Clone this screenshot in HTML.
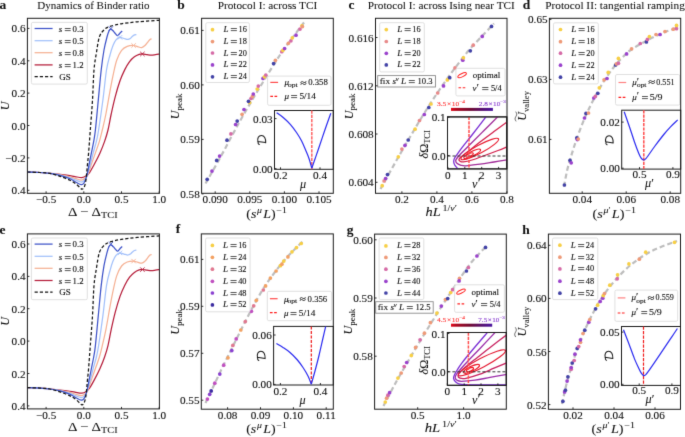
<!DOCTYPE html><html><head><meta charset="utf-8"><style>html,body{margin:0;padding:0;background:#fff;overflow:hidden}svg{display:block;will-change:transform}text{font-family:"Liberation Serif",serif}</style></head><body>
<svg xmlns="http://www.w3.org/2000/svg" width="685" height="437" viewBox="0 0 685 437">
<defs><filter id="soft" filterUnits="userSpaceOnUse" x="0" y="0" width="685" height="437" color-interpolation-filters="sRGB"><feConvolveMatrix order="3" kernelMatrix="0.0100 0.0800 0.0100 0.0800 0.6400 0.0800 0.0100 0.0800 0.0100" edgeMode="duplicate"/></filter></defs>
<rect width="685" height="437" fill="#fff"/>
<g filter="url(#soft)"><rect width="685" height="437" fill="#fff"/>
<text x="93.40" y="9.20" font-size="10.2" text-anchor="middle" textLength="112.4" lengthAdjust="spacingAndGlyphs" fill="#111" stroke="#111" stroke-width="0.05">Dynamics of Binder ratio</text>
<text x="-0.50" y="9.30" font-size="13.5" font-weight="bold" fill="#111" stroke="#111" stroke-width="0.06">a</text>
<g clip-path="url(#clipaa)">
<path d="M27.40,172.00 C29.50,172.08 36.23,172.27 40.00,172.50 C43.77,172.73 46.67,173.08 50.00,173.40 C53.33,173.72 56.97,174.07 60.00,174.40 C63.03,174.73 65.70,175.03 68.20,175.40 C70.70,175.77 72.72,176.23 75.00,176.60 C77.28,176.97 80.02,177.73 81.90,177.60 C83.78,177.47 85.00,176.68 86.30,175.80 C87.60,174.92 88.37,174.22 89.70,172.30 C91.03,170.38 92.58,167.53 94.30,164.30 C96.02,161.07 98.28,156.72 100.00,152.90 C101.72,149.08 103.27,145.22 104.60,141.40 C105.93,137.58 106.90,134.57 108.00,130.00 C109.10,125.43 110.00,119.53 111.20,114.00 C112.40,108.47 113.73,102.33 115.20,96.80 C116.67,91.27 118.40,85.33 120.00,80.80 C121.60,76.27 123.20,72.80 124.80,69.60 C126.40,66.40 128.00,63.73 129.60,61.60 C131.20,59.47 132.80,58.02 134.40,56.80 C136.00,55.58 137.87,54.78 139.20,54.30 C140.53,53.82 141.10,53.85 142.40,53.90 C143.70,53.95 145.52,54.40 147.00,54.60 C148.48,54.80 149.88,55.10 151.30,55.10 C152.72,55.10 154.15,54.78 155.50,54.60 C156.85,54.42 158.75,54.10 159.40,54.00" fill="none" stroke="#b51d3a" stroke-width="1.25" stroke-linejoin="round"/>
<path d="M27.40,172.00 C29.50,172.08 36.23,172.27 40.00,172.50 C43.77,172.73 46.67,173.03 50.00,173.40 C53.33,173.77 56.67,174.13 60.00,174.70 C63.33,175.27 67.33,176.13 70.00,176.80 C72.67,177.47 74.00,178.17 76.00,178.70 C78.00,179.23 80.22,180.32 82.00,180.00 C83.78,179.68 85.65,177.93 86.70,176.80 C87.75,175.67 87.52,175.28 88.30,173.20 C89.08,171.12 90.22,167.68 91.40,164.30 C92.58,160.92 94.07,156.72 95.40,152.90 C96.73,149.08 98.25,145.22 99.40,141.40 C100.55,137.58 101.22,134.57 102.30,130.00 C103.38,125.43 104.55,120.87 105.90,114.00 C107.25,107.13 109.12,95.67 110.40,88.80 C111.68,81.93 112.53,77.60 113.60,72.80 C114.67,68.00 115.47,63.73 116.80,60.00 C118.13,56.27 119.87,52.67 121.60,50.40 C123.33,48.13 125.22,47.22 127.20,46.40 C129.18,45.58 131.78,45.47 133.50,45.50 C135.22,45.53 136.13,46.25 137.50,46.60 C138.87,46.95 140.45,47.78 141.70,47.60 C142.95,47.42 143.95,46.47 145.00,45.50 C146.05,44.53 147.17,42.82 148.00,41.80 C148.83,40.78 149.40,39.88 150.00,39.40 C150.60,38.92 151.33,38.98 151.60,38.90" fill="none" stroke="#f5b194" stroke-width="1.25" stroke-linejoin="round"/>
<path d="M27.40,172.00 C29.50,172.08 36.23,172.27 40.00,172.50 C43.77,172.73 46.67,172.98 50.00,173.40 C53.33,173.82 56.67,174.27 60.00,175.00 C63.33,175.73 67.33,176.93 70.00,177.80 C72.67,178.67 74.17,179.50 76.00,180.20 C77.83,180.90 79.67,181.90 81.00,182.00 C82.33,182.10 83.05,181.75 84.00,180.80 C84.95,179.85 85.65,179.05 86.70,176.30 C87.75,173.55 89.22,168.20 90.30,164.30 C91.38,160.40 92.18,156.72 93.20,152.90 C94.22,149.08 95.50,145.22 96.40,141.40 C97.30,137.58 97.52,136.90 98.60,130.00 C99.68,123.10 101.58,110.00 102.90,100.00 C104.22,90.00 105.32,77.50 106.50,70.00 C107.68,62.50 108.92,59.08 110.00,55.00 C111.08,50.92 112.00,48.03 113.00,45.50 C114.00,42.97 114.87,41.15 116.00,39.80 C117.13,38.45 118.47,37.62 119.80,37.40 C121.13,37.18 122.63,38.17 124.00,38.50 C125.37,38.83 126.92,39.43 128.00,39.40 C129.08,39.37 129.75,38.82 130.50,38.30 C131.25,37.78 131.83,36.87 132.50,36.30 C133.17,35.73 133.85,35.18 134.50,34.90 C135.15,34.62 136.08,34.65 136.40,34.60" fill="none" stroke="#a2c0fa" stroke-width="1.25" stroke-linejoin="round"/>
<path d="M27.40,172.00 C29.50,172.08 36.23,172.27 40.00,172.50 C43.77,172.73 46.67,172.93 50.00,173.40 C53.33,173.87 56.67,174.40 60.00,175.30 C63.33,176.20 67.33,177.65 70.00,178.80 C72.67,179.95 74.13,181.23 76.00,182.20 C77.87,183.17 79.87,184.47 81.20,184.60 C82.53,184.73 83.08,184.40 84.00,183.00 C84.92,181.60 85.85,179.32 86.70,176.20 C87.55,173.08 88.32,168.18 89.10,164.30 C89.88,160.42 90.63,156.72 91.40,152.90 C92.17,149.08 93.03,145.22 93.70,141.40 C94.37,137.58 94.63,136.90 95.40,130.00 C96.17,123.10 97.33,110.00 98.30,100.00 C99.27,90.00 100.25,78.33 101.20,70.00 C102.15,61.67 103.03,55.50 104.00,50.00 C104.97,44.50 106.20,40.08 107.00,37.00 C107.80,33.92 108.20,32.80 108.80,31.50 C109.40,30.20 109.98,29.40 110.60,29.20 C111.22,29.00 111.85,29.75 112.50,30.30 C113.15,30.85 113.70,31.62 114.50,32.50 C115.30,33.38 116.55,35.30 117.30,35.60 C118.05,35.90 118.45,34.83 119.00,34.30 C119.55,33.77 120.07,32.95 120.60,32.40 C121.13,31.85 121.93,31.23 122.20,31.00" fill="none" stroke="#3d52c8" stroke-width="1.25" stroke-linejoin="round"/>
<path d="M27.40,172.00 C29.50,172.08 36.23,172.27 40.00,172.50 C43.77,172.73 46.67,172.77 50.00,173.40 C53.33,174.03 56.67,175.15 60.00,176.30 C63.33,177.45 67.33,179.02 70.00,180.30 C72.67,181.58 74.33,182.75 76.00,184.00 C77.67,185.25 79.00,186.93 80.00,187.80 C81.00,188.67 81.33,189.23 82.00,189.20 C82.67,189.17 83.40,188.80 84.00,187.60 C84.60,186.40 85.17,184.27 85.60,182.00 C86.03,179.73 86.30,176.83 86.60,174.00 C86.90,171.17 87.07,168.52 87.40,165.00 C87.73,161.48 88.12,158.73 88.60,152.90 C89.08,147.07 89.65,138.82 90.30,130.00 C90.95,121.18 91.88,110.00 92.50,100.00 C93.12,90.00 93.33,77.95 94.00,70.00 C94.67,62.05 95.62,57.77 96.50,52.30 C97.38,46.83 98.12,40.87 99.30,37.20 C100.48,33.53 101.93,32.07 103.60,30.30 C105.27,28.53 106.37,27.68 109.30,26.60 C112.23,25.52 116.48,24.60 121.20,23.80 C125.92,23.00 131.23,22.38 137.60,21.80 C143.97,21.22 155.77,20.55 159.40,20.30" fill="none" stroke="#111" stroke-width="1.25" stroke-linejoin="round" stroke-dasharray="3.2,2.0"/>
</g>
<clipPath id="clipaa"><rect x="27.4" y="18.3" width="132.0" height="175.0"/></clipPath>
<line x1="108.60" y1="26.40" x2="113.00" y2="30.80" stroke="#3d52c8" stroke-width="0.9" stroke-linecap="butt"/>
<line x1="108.60" y1="30.80" x2="113.00" y2="26.40" stroke="#3d52c8" stroke-width="0.9" stroke-linecap="butt"/>
<line x1="117.80" y1="35.10" x2="122.20" y2="39.50" stroke="#a2c0fa" stroke-width="0.9" stroke-linecap="butt"/>
<line x1="117.80" y1="39.50" x2="122.20" y2="35.10" stroke="#a2c0fa" stroke-width="0.9" stroke-linecap="butt"/>
<line x1="131.40" y1="43.30" x2="135.80" y2="47.70" stroke="#f5b194" stroke-width="0.9" stroke-linecap="butt"/>
<line x1="131.40" y1="47.70" x2="135.80" y2="43.30" stroke="#f5b194" stroke-width="0.9" stroke-linecap="butt"/>
<line x1="140.20" y1="51.80" x2="144.60" y2="56.20" stroke="#b51d3a" stroke-width="0.9" stroke-linecap="butt"/>
<line x1="140.20" y1="56.20" x2="144.60" y2="51.80" stroke="#b51d3a" stroke-width="0.9" stroke-linecap="butt"/>
<rect x="31.40" y="22.40" width="55.90" height="61.70" rx="1.5" fill="rgba(255,255,255,0.8)" stroke="#d8d8d8" stroke-width="0.8"/>
<line x1="34.60" y1="28.50" x2="52.60" y2="28.50" stroke="#3d52c8" stroke-width="1.25" stroke-linecap="butt"/>
<text x="58.80" y="31.70" font-size="9.0" fill="#111" stroke="#111" stroke-width="0.12"><tspan font-style="italic">s</tspan></text>
<line x1="64.80" y1="28.50" x2="70.70" y2="28.50" stroke="#222" stroke-width="0.75" stroke-linecap="butt"/>
<line x1="64.80" y1="30.60" x2="70.70" y2="30.60" stroke="#222" stroke-width="0.75" stroke-linecap="butt"/>
<text x="72.60" y="31.70" font-size="9.0" textLength="11.0" lengthAdjust="spacingAndGlyphs" fill="#111" stroke="#111" stroke-width="0.12">0.3</text>
<line x1="34.60" y1="40.70" x2="52.60" y2="40.70" stroke="#a2c0fa" stroke-width="1.25" stroke-linecap="butt"/>
<text x="58.80" y="43.90" font-size="9.0" fill="#111" stroke="#111" stroke-width="0.12"><tspan font-style="italic">s</tspan></text>
<line x1="64.80" y1="40.50" x2="70.70" y2="40.50" stroke="#222" stroke-width="0.75" stroke-linecap="butt"/>
<line x1="64.80" y1="42.60" x2="70.70" y2="42.60" stroke="#222" stroke-width="0.75" stroke-linecap="butt"/>
<text x="72.60" y="43.90" font-size="9.0" textLength="11.0" lengthAdjust="spacingAndGlyphs" fill="#111" stroke="#111" stroke-width="0.12">0.5</text>
<line x1="34.60" y1="52.70" x2="52.60" y2="52.70" stroke="#f5b194" stroke-width="1.25" stroke-linecap="butt"/>
<text x="58.80" y="55.90" font-size="9.0" fill="#111" stroke="#111" stroke-width="0.12"><tspan font-style="italic">s</tspan></text>
<line x1="64.80" y1="52.50" x2="70.70" y2="52.50" stroke="#222" stroke-width="0.75" stroke-linecap="butt"/>
<line x1="64.80" y1="54.60" x2="70.70" y2="54.60" stroke="#222" stroke-width="0.75" stroke-linecap="butt"/>
<text x="72.60" y="55.90" font-size="9.0" textLength="11.0" lengthAdjust="spacingAndGlyphs" fill="#111" stroke="#111" stroke-width="0.12">0.8</text>
<line x1="34.60" y1="64.90" x2="52.60" y2="64.90" stroke="#b51d3a" stroke-width="1.25" stroke-linecap="butt"/>
<text x="58.80" y="68.10" font-size="9.0" fill="#111" stroke="#111" stroke-width="0.12"><tspan font-style="italic">s</tspan></text>
<line x1="64.80" y1="64.50" x2="70.70" y2="64.50" stroke="#222" stroke-width="0.75" stroke-linecap="butt"/>
<line x1="64.80" y1="66.60" x2="70.70" y2="66.60" stroke="#222" stroke-width="0.75" stroke-linecap="butt"/>
<text x="72.60" y="68.10" font-size="9.0" textLength="11.0" lengthAdjust="spacingAndGlyphs" fill="#111" stroke="#111" stroke-width="0.12">1.2</text>
<line x1="34.60" y1="76.60" x2="52.60" y2="76.60" stroke="#111" stroke-width="1.25" stroke-linecap="butt" stroke-dasharray="3.2,2.0"/>
<text x="59.20" y="79.60" font-size="9.0" fill="#111" stroke="#111" stroke-width="0.12">GS</text>
<rect x="27.40" y="18.30" width="132.00" height="175.00" rx="0" fill="none" stroke="#1a1a1a" stroke-width="1.0"/>
<line x1="27.40" y1="28.40" x2="29.40" y2="28.40" stroke="#1a1a1a" stroke-width="0.9" stroke-linecap="butt"/>
<text x="25.60" y="32.40" font-size="11.2" text-anchor="end" fill="#111" stroke="#111" stroke-width="0.12">0.6</text>
<line x1="27.40" y1="60.80" x2="29.40" y2="60.80" stroke="#1a1a1a" stroke-width="0.9" stroke-linecap="butt"/>
<text x="25.60" y="64.80" font-size="11.2" text-anchor="end" fill="#111" stroke="#111" stroke-width="0.12">0.4</text>
<line x1="27.40" y1="93.10" x2="29.40" y2="93.10" stroke="#1a1a1a" stroke-width="0.9" stroke-linecap="butt"/>
<text x="25.60" y="97.10" font-size="11.2" text-anchor="end" fill="#111" stroke="#111" stroke-width="0.12">0.2</text>
<line x1="27.40" y1="125.50" x2="29.40" y2="125.50" stroke="#1a1a1a" stroke-width="0.9" stroke-linecap="butt"/>
<text x="25.60" y="129.50" font-size="11.2" text-anchor="end" fill="#111" stroke="#111" stroke-width="0.12">0.0</text>
<line x1="27.40" y1="157.90" x2="29.40" y2="157.90" stroke="#1a1a1a" stroke-width="0.9" stroke-linecap="butt"/>
<text x="25.60" y="161.90" font-size="11.2" text-anchor="end" fill="#111" stroke="#111" stroke-width="0.12">−0.2</text>
<line x1="27.40" y1="190.30" x2="29.40" y2="190.30" stroke="#1a1a1a" stroke-width="0.9" stroke-linecap="butt"/>
<text x="25.60" y="194.30" font-size="11.2" text-anchor="end" fill="#111" stroke="#111" stroke-width="0.12">0.4</text>
<line x1="46.10" y1="193.30" x2="46.10" y2="191.30" stroke="#1a1a1a" stroke-width="0.9" stroke-linecap="butt"/>
<text x="46.10" y="202.90" font-size="11.2" text-anchor="middle" fill="#111" stroke="#111" stroke-width="0.12">−0.5</text>
<line x1="83.80" y1="193.30" x2="83.80" y2="191.30" stroke="#1a1a1a" stroke-width="0.9" stroke-linecap="butt"/>
<text x="83.80" y="202.90" font-size="11.2" text-anchor="middle" fill="#111" stroke="#111" stroke-width="0.12">0.0</text>
<line x1="121.50" y1="193.30" x2="121.50" y2="191.30" stroke="#1a1a1a" stroke-width="0.9" stroke-linecap="butt"/>
<text x="121.50" y="202.90" font-size="11.2" text-anchor="middle" fill="#111" stroke="#111" stroke-width="0.12">0.5</text>
<line x1="159.20" y1="193.30" x2="159.20" y2="191.30" stroke="#1a1a1a" stroke-width="0.9" stroke-linecap="butt"/>
<text x="159.20" y="202.90" font-size="11.2" text-anchor="middle" fill="#111" stroke="#111" stroke-width="0.12">1.0</text>
<text x="92.85" y="215.70" font-size="12.2" text-anchor="middle" textLength="49.5" lengthAdjust="spacingAndGlyphs" fill="#111" stroke="#111" stroke-width="0.06">Δ − Δ<tspan dy="2.0" font-size="8.54">TCI</tspan></text>
<text x="9.00" y="105.80" font-size="12.2" text-anchor="middle" transform="rotate(-90 9.00 105.80)" fill="#111" stroke="#111" stroke-width="0.06"><tspan font-style="italic">U</tspan></text>
<text x="-0.50" y="233.80" font-size="13.5" font-weight="bold" fill="#111" stroke="#111" stroke-width="0.06">e</text>
<g clip-path="url(#clipae)">
<path d="M27.40,387.60 C29.50,387.68 36.23,387.87 40.00,388.10 C43.77,388.33 46.67,388.68 50.00,389.00 C53.33,389.32 56.97,389.67 60.00,390.00 C63.03,390.33 65.70,390.63 68.20,391.00 C70.70,391.37 72.72,391.83 75.00,392.20 C77.28,392.57 80.02,393.33 81.90,393.20 C83.78,393.07 85.00,392.28 86.30,391.40 C87.60,390.52 88.37,389.82 89.70,387.90 C91.03,385.98 92.58,383.13 94.30,379.90 C96.02,376.67 98.28,372.32 100.00,368.50 C101.72,364.68 103.27,360.82 104.60,357.00 C105.93,353.18 106.90,350.17 108.00,345.60 C109.10,341.03 110.00,335.13 111.20,329.60 C112.40,324.07 113.73,317.93 115.20,312.40 C116.67,306.87 118.40,300.93 120.00,296.40 C121.60,291.87 123.20,288.40 124.80,285.20 C126.40,282.00 128.00,279.33 129.60,277.20 C131.20,275.07 132.80,273.62 134.40,272.40 C136.00,271.18 137.87,270.38 139.20,269.90 C140.53,269.42 141.10,269.45 142.40,269.50 C143.70,269.55 145.52,270.00 147.00,270.20 C148.48,270.40 149.88,270.70 151.30,270.70 C152.72,270.70 154.15,270.38 155.50,270.20 C156.85,270.02 158.75,269.70 159.40,269.60" fill="none" stroke="#b51d3a" stroke-width="1.25" stroke-linejoin="round"/>
<path d="M27.40,387.60 C29.50,387.68 36.23,387.87 40.00,388.10 C43.77,388.33 46.67,388.63 50.00,389.00 C53.33,389.37 56.67,389.73 60.00,390.30 C63.33,390.87 67.33,391.73 70.00,392.40 C72.67,393.07 74.00,393.77 76.00,394.30 C78.00,394.83 80.22,395.92 82.00,395.60 C83.78,395.28 85.65,393.53 86.70,392.40 C87.75,391.27 87.52,390.88 88.30,388.80 C89.08,386.72 90.22,383.28 91.40,379.90 C92.58,376.52 94.07,372.32 95.40,368.50 C96.73,364.68 98.25,360.82 99.40,357.00 C100.55,353.18 101.22,350.17 102.30,345.60 C103.38,341.03 104.55,336.47 105.90,329.60 C107.25,322.73 109.12,311.27 110.40,304.40 C111.68,297.53 112.53,293.20 113.60,288.40 C114.67,283.60 115.47,279.33 116.80,275.60 C118.13,271.87 119.87,268.27 121.60,266.00 C123.33,263.73 125.22,262.82 127.20,262.00 C129.18,261.18 131.78,261.07 133.50,261.10 C135.22,261.13 136.13,261.85 137.50,262.20 C138.87,262.55 140.45,263.38 141.70,263.20 C142.95,263.02 143.95,262.07 145.00,261.10 C146.05,260.13 147.17,258.42 148.00,257.40 C148.83,256.38 149.40,255.48 150.00,255.00 C150.60,254.52 151.33,254.58 151.60,254.50" fill="none" stroke="#f5b194" stroke-width="1.25" stroke-linejoin="round"/>
<path d="M27.40,387.60 C29.50,387.68 36.23,387.87 40.00,388.10 C43.77,388.33 46.67,388.58 50.00,389.00 C53.33,389.42 56.67,389.87 60.00,390.60 C63.33,391.33 67.33,392.53 70.00,393.40 C72.67,394.27 74.17,395.10 76.00,395.80 C77.83,396.50 79.67,397.50 81.00,397.60 C82.33,397.70 83.05,397.35 84.00,396.40 C84.95,395.45 85.65,394.65 86.70,391.90 C87.75,389.15 89.22,383.80 90.30,379.90 C91.38,376.00 92.18,372.32 93.20,368.50 C94.22,364.68 95.50,360.82 96.40,357.00 C97.30,353.18 97.52,352.50 98.60,345.60 C99.68,338.70 101.58,325.60 102.90,315.60 C104.22,305.60 105.32,293.10 106.50,285.60 C107.68,278.10 108.92,274.68 110.00,270.60 C111.08,266.52 112.00,263.63 113.00,261.10 C114.00,258.57 114.87,256.75 116.00,255.40 C117.13,254.05 118.47,253.22 119.80,253.00 C121.13,252.78 122.63,253.77 124.00,254.10 C125.37,254.43 126.92,255.03 128.00,255.00 C129.08,254.97 129.75,254.42 130.50,253.90 C131.25,253.38 131.83,252.47 132.50,251.90 C133.17,251.33 133.85,250.78 134.50,250.50 C135.15,250.22 136.08,250.25 136.40,250.20" fill="none" stroke="#a2c0fa" stroke-width="1.25" stroke-linejoin="round"/>
<path d="M27.40,387.60 C29.50,387.68 36.23,387.87 40.00,388.10 C43.77,388.33 46.67,388.53 50.00,389.00 C53.33,389.47 56.67,390.00 60.00,390.90 C63.33,391.80 67.33,393.25 70.00,394.40 C72.67,395.55 74.13,396.83 76.00,397.80 C77.87,398.77 79.87,400.07 81.20,400.20 C82.53,400.33 83.08,400.00 84.00,398.60 C84.92,397.20 85.85,394.92 86.70,391.80 C87.55,388.68 88.32,383.78 89.10,379.90 C89.88,376.02 90.63,372.32 91.40,368.50 C92.17,364.68 93.03,360.82 93.70,357.00 C94.37,353.18 94.63,352.50 95.40,345.60 C96.17,338.70 97.33,325.60 98.30,315.60 C99.27,305.60 100.25,293.93 101.20,285.60 C102.15,277.27 103.03,271.10 104.00,265.60 C104.97,260.10 106.20,255.68 107.00,252.60 C107.80,249.52 108.20,248.40 108.80,247.10 C109.40,245.80 109.98,245.00 110.60,244.80 C111.22,244.60 111.85,245.35 112.50,245.90 C113.15,246.45 113.70,247.22 114.50,248.10 C115.30,248.98 116.55,250.90 117.30,251.20 C118.05,251.50 118.45,250.43 119.00,249.90 C119.55,249.37 120.07,248.55 120.60,248.00 C121.13,247.45 121.93,246.83 122.20,246.60" fill="none" stroke="#3d52c8" stroke-width="1.25" stroke-linejoin="round"/>
<path d="M27.40,387.60 C29.50,387.68 36.23,387.87 40.00,388.10 C43.77,388.33 46.67,388.37 50.00,389.00 C53.33,389.63 56.67,390.75 60.00,391.90 C63.33,393.05 67.33,394.62 70.00,395.90 C72.67,397.18 74.33,398.35 76.00,399.60 C77.67,400.85 79.00,402.53 80.00,403.40 C81.00,404.27 81.33,404.83 82.00,404.80 C82.67,404.77 83.40,404.40 84.00,403.20 C84.60,402.00 85.17,399.87 85.60,397.60 C86.03,395.33 86.30,392.43 86.60,389.60 C86.90,386.77 87.07,384.12 87.40,380.60 C87.73,377.08 88.12,374.33 88.60,368.50 C89.08,362.67 89.65,354.42 90.30,345.60 C90.95,336.78 91.88,325.60 92.50,315.60 C93.12,305.60 93.33,293.55 94.00,285.60 C94.67,277.65 95.62,273.37 96.50,267.90 C97.38,262.43 98.12,256.47 99.30,252.80 C100.48,249.13 101.93,247.67 103.60,245.90 C105.27,244.13 106.37,243.28 109.30,242.20 C112.23,241.12 116.48,240.20 121.20,239.40 C125.92,238.60 131.23,237.98 137.60,237.40 C143.97,236.82 155.77,236.15 159.40,235.90" fill="none" stroke="#111" stroke-width="1.25" stroke-linejoin="round" stroke-dasharray="3.2,2.0"/>
</g>
<clipPath id="clipae"><rect x="27.4" y="233.9" width="132.0" height="174.99999999999997"/></clipPath>
<line x1="108.60" y1="242.00" x2="113.00" y2="246.40" stroke="#3d52c8" stroke-width="0.9" stroke-linecap="butt"/>
<line x1="108.60" y1="246.40" x2="113.00" y2="242.00" stroke="#3d52c8" stroke-width="0.9" stroke-linecap="butt"/>
<line x1="117.80" y1="250.70" x2="122.20" y2="255.10" stroke="#a2c0fa" stroke-width="0.9" stroke-linecap="butt"/>
<line x1="117.80" y1="255.10" x2="122.20" y2="250.70" stroke="#a2c0fa" stroke-width="0.9" stroke-linecap="butt"/>
<line x1="131.40" y1="258.90" x2="135.80" y2="263.30" stroke="#f5b194" stroke-width="0.9" stroke-linecap="butt"/>
<line x1="131.40" y1="263.30" x2="135.80" y2="258.90" stroke="#f5b194" stroke-width="0.9" stroke-linecap="butt"/>
<line x1="140.20" y1="267.40" x2="144.60" y2="271.80" stroke="#b51d3a" stroke-width="0.9" stroke-linecap="butt"/>
<line x1="140.20" y1="271.80" x2="144.60" y2="267.40" stroke="#b51d3a" stroke-width="0.9" stroke-linecap="butt"/>
<rect x="31.40" y="238.00" width="55.90" height="61.70" rx="1.5" fill="rgba(255,255,255,0.8)" stroke="#d8d8d8" stroke-width="0.8"/>
<line x1="34.60" y1="244.10" x2="52.60" y2="244.10" stroke="#3d52c8" stroke-width="1.25" stroke-linecap="butt"/>
<text x="58.80" y="247.30" font-size="9.0" fill="#111" stroke="#111" stroke-width="0.12"><tspan font-style="italic">s</tspan></text>
<line x1="64.80" y1="243.50" x2="70.70" y2="243.50" stroke="#222" stroke-width="0.75" stroke-linecap="butt"/>
<line x1="64.80" y1="245.60" x2="70.70" y2="245.60" stroke="#222" stroke-width="0.75" stroke-linecap="butt"/>
<text x="72.60" y="247.30" font-size="9.0" textLength="11.0" lengthAdjust="spacingAndGlyphs" fill="#111" stroke="#111" stroke-width="0.12">0.3</text>
<line x1="34.60" y1="256.30" x2="52.60" y2="256.30" stroke="#a2c0fa" stroke-width="1.25" stroke-linecap="butt"/>
<text x="58.80" y="259.50" font-size="9.0" fill="#111" stroke="#111" stroke-width="0.12"><tspan font-style="italic">s</tspan></text>
<line x1="64.80" y1="256.50" x2="70.70" y2="256.50" stroke="#222" stroke-width="0.75" stroke-linecap="butt"/>
<line x1="64.80" y1="258.60" x2="70.70" y2="258.60" stroke="#222" stroke-width="0.75" stroke-linecap="butt"/>
<text x="72.60" y="259.50" font-size="9.0" textLength="11.0" lengthAdjust="spacingAndGlyphs" fill="#111" stroke="#111" stroke-width="0.12">0.5</text>
<line x1="34.60" y1="268.30" x2="52.60" y2="268.30" stroke="#f5b194" stroke-width="1.25" stroke-linecap="butt"/>
<text x="58.80" y="271.50" font-size="9.0" fill="#111" stroke="#111" stroke-width="0.12"><tspan font-style="italic">s</tspan></text>
<line x1="64.80" y1="268.50" x2="70.70" y2="268.50" stroke="#222" stroke-width="0.75" stroke-linecap="butt"/>
<line x1="64.80" y1="270.60" x2="70.70" y2="270.60" stroke="#222" stroke-width="0.75" stroke-linecap="butt"/>
<text x="72.60" y="271.50" font-size="9.0" textLength="11.0" lengthAdjust="spacingAndGlyphs" fill="#111" stroke="#111" stroke-width="0.12">0.8</text>
<line x1="34.60" y1="280.50" x2="52.60" y2="280.50" stroke="#b51d3a" stroke-width="1.25" stroke-linecap="butt"/>
<text x="58.80" y="283.70" font-size="9.0" fill="#111" stroke="#111" stroke-width="0.12"><tspan font-style="italic">s</tspan></text>
<line x1="64.80" y1="280.50" x2="70.70" y2="280.50" stroke="#222" stroke-width="0.75" stroke-linecap="butt"/>
<line x1="64.80" y1="282.60" x2="70.70" y2="282.60" stroke="#222" stroke-width="0.75" stroke-linecap="butt"/>
<text x="72.60" y="283.70" font-size="9.0" textLength="11.0" lengthAdjust="spacingAndGlyphs" fill="#111" stroke="#111" stroke-width="0.12">1.2</text>
<line x1="34.60" y1="292.20" x2="52.60" y2="292.20" stroke="#111" stroke-width="1.25" stroke-linecap="butt" stroke-dasharray="3.2,2.0"/>
<text x="59.20" y="295.20" font-size="9.0" fill="#111" stroke="#111" stroke-width="0.12">GS</text>
<rect x="27.40" y="233.90" width="132.00" height="175.00" rx="0" fill="none" stroke="#1a1a1a" stroke-width="1.0"/>
<line x1="27.40" y1="244.00" x2="29.40" y2="244.00" stroke="#1a1a1a" stroke-width="0.9" stroke-linecap="butt"/>
<text x="25.60" y="248.00" font-size="11.2" text-anchor="end" fill="#111" stroke="#111" stroke-width="0.12">0.6</text>
<line x1="27.40" y1="276.40" x2="29.40" y2="276.40" stroke="#1a1a1a" stroke-width="0.9" stroke-linecap="butt"/>
<text x="25.60" y="280.40" font-size="11.2" text-anchor="end" fill="#111" stroke="#111" stroke-width="0.12">0.4</text>
<line x1="27.40" y1="308.70" x2="29.40" y2="308.70" stroke="#1a1a1a" stroke-width="0.9" stroke-linecap="butt"/>
<text x="25.60" y="312.70" font-size="11.2" text-anchor="end" fill="#111" stroke="#111" stroke-width="0.12">0.2</text>
<line x1="27.40" y1="341.10" x2="29.40" y2="341.10" stroke="#1a1a1a" stroke-width="0.9" stroke-linecap="butt"/>
<text x="25.60" y="345.10" font-size="11.2" text-anchor="end" fill="#111" stroke="#111" stroke-width="0.12">0.0</text>
<line x1="27.40" y1="373.50" x2="29.40" y2="373.50" stroke="#1a1a1a" stroke-width="0.9" stroke-linecap="butt"/>
<text x="25.60" y="377.50" font-size="11.2" text-anchor="end" fill="#111" stroke="#111" stroke-width="0.12">0.2</text>
<line x1="27.40" y1="405.90" x2="29.40" y2="405.90" stroke="#1a1a1a" stroke-width="0.9" stroke-linecap="butt"/>
<text x="25.60" y="409.90" font-size="11.2" text-anchor="end" fill="#111" stroke="#111" stroke-width="0.12">0.4</text>
<line x1="46.10" y1="408.90" x2="46.10" y2="406.90" stroke="#1a1a1a" stroke-width="0.9" stroke-linecap="butt"/>
<text x="46.10" y="418.50" font-size="11.2" text-anchor="middle" fill="#111" stroke="#111" stroke-width="0.12">−0.5</text>
<line x1="83.80" y1="408.90" x2="83.80" y2="406.90" stroke="#1a1a1a" stroke-width="0.9" stroke-linecap="butt"/>
<text x="83.80" y="418.50" font-size="11.2" text-anchor="middle" fill="#111" stroke="#111" stroke-width="0.12">0.0</text>
<line x1="121.50" y1="408.90" x2="121.50" y2="406.90" stroke="#1a1a1a" stroke-width="0.9" stroke-linecap="butt"/>
<text x="121.50" y="418.50" font-size="11.2" text-anchor="middle" fill="#111" stroke="#111" stroke-width="0.12">0.5</text>
<line x1="159.20" y1="408.90" x2="159.20" y2="406.90" stroke="#1a1a1a" stroke-width="0.9" stroke-linecap="butt"/>
<text x="159.20" y="418.50" font-size="11.2" text-anchor="middle" fill="#111" stroke="#111" stroke-width="0.12">1.0</text>
<text x="92.85" y="431.30" font-size="12.2" text-anchor="middle" textLength="49.5" lengthAdjust="spacingAndGlyphs" fill="#111" stroke="#111" stroke-width="0.06">Δ − Δ<tspan dy="2.0" font-size="8.54">TCI</tspan></text>
<text x="9.00" y="321.40" font-size="12.2" text-anchor="middle" transform="rotate(-90 9.00 321.40)" fill="#111" stroke="#111" stroke-width="0.06"><tspan font-style="italic">U</tspan></text>
<text x="267.45" y="9.20" font-size="10.2" text-anchor="middle" textLength="99.5" lengthAdjust="spacingAndGlyphs" fill="#111" stroke="#111" stroke-width="0.05">Protocol I: across TCI</text>
<text x="177.30" y="9.30" font-size="13.5" font-weight="bold" fill="#111" stroke="#111" stroke-width="0.06">b</text>
<path d="M205.50,183.50 C207.92,179.25 214.25,168.42 220.00,158.00 C225.75,147.58 233.33,132.83 240.00,121.00 C246.67,109.17 253.33,98.00 260.00,87.00 C266.67,76.00 274.00,64.00 280.00,55.00 C286.00,46.00 292.00,38.42 296.00,33.00 C300.00,27.58 302.67,24.25 304.00,22.50" fill="none" stroke="#bdbdbd" stroke-width="2.2" stroke-linejoin="round" stroke-dasharray="5,3"/>
<circle cx="207.20" cy="179.30" r="1.85" fill="#4242a6"/>
<circle cx="212.00" cy="171.10" r="1.85" fill="#9a42cc"/>
<circle cx="216.70" cy="160.40" r="1.85" fill="#4242a6"/>
<circle cx="219.60" cy="156.10" r="1.85" fill="#9a42cc"/>
<circle cx="227.00" cy="140.20" r="1.85" fill="#4242a6"/>
<circle cx="230.90" cy="133.90" r="1.85" fill="#d56aa6"/>
<circle cx="235.60" cy="124.50" r="1.85" fill="#9a42cc"/>
<circle cx="237.20" cy="121.10" r="1.85" fill="#4242a6"/>
<circle cx="242.10" cy="114.30" r="1.85" fill="#ee9a78"/>
<circle cx="244.00" cy="109.50" r="1.85" fill="#9a42cc"/>
<circle cx="249.60" cy="102.40" r="1.85" fill="#f7cf45"/>
<circle cx="248.50" cy="101.30" r="1.85" fill="#4242a6"/>
<circle cx="251.00" cy="98.50" r="1.85" fill="#d56aa6"/>
<circle cx="252.40" cy="96.40" r="1.85" fill="#ee9a78"/>
<circle cx="253.30" cy="94.00" r="1.85" fill="#9a42cc"/>
<circle cx="257.20" cy="89.10" r="1.85" fill="#f7cf45"/>
<circle cx="258.30" cy="86.10" r="1.85" fill="#d56aa6"/>
<circle cx="263.00" cy="78.40" r="1.85" fill="#9a42cc"/>
<circle cx="264.40" cy="76.80" r="1.85" fill="#f7cf45"/>
<circle cx="265.80" cy="75.00" r="1.85" fill="#d56aa6"/>
<circle cx="273.60" cy="63.60" r="1.85" fill="#4242a6"/>
<circle cx="275.40" cy="60.30" r="1.85" fill="#ee9a78"/>
<circle cx="281.80" cy="51.70" r="1.85" fill="#d56aa6"/>
<circle cx="282.90" cy="50.30" r="1.85" fill="#f7cf45"/>
<circle cx="284.60" cy="48.50" r="1.85" fill="#9a42cc"/>
<circle cx="288.30" cy="43.30" r="1.85" fill="#ee9a78"/>
<circle cx="290.90" cy="40.80" r="1.85" fill="#d56aa6"/>
<circle cx="292.30" cy="37.80" r="1.85" fill="#f7cf45"/>
<circle cx="296.00" cy="35.20" r="1.85" fill="#9a42cc"/>
<circle cx="300.00" cy="29.10" r="1.85" fill="#d56aa6"/>
<circle cx="302.00" cy="25.90" r="1.85" fill="#f7cf45"/>
<circle cx="302.40" cy="26.60" r="1.85" fill="#ee9a78"/>
<rect x="205.80" y="22.70" width="43.60" height="59.80" rx="1.5" fill="rgba(255,255,255,0.8)" stroke="#d8d8d8" stroke-width="0.8"/>
<circle cx="212.50" cy="29.70" r="1.85" fill="#f7cf45"/>
<text x="223.40" y="32.20" font-size="9.0" fill="#111" stroke="#111" stroke-width="0.12"><tspan font-style="italic">L</tspan></text>
<line x1="230.80" y1="28.50" x2="236.90" y2="28.50" stroke="#222" stroke-width="0.75" stroke-linecap="butt"/>
<line x1="230.80" y1="30.60" x2="236.90" y2="30.60" stroke="#222" stroke-width="0.75" stroke-linecap="butt"/>
<text x="238.50" y="32.20" font-size="9.0" textLength="8.3" lengthAdjust="spacingAndGlyphs" fill="#111" stroke="#111" stroke-width="0.12">16</text>
<circle cx="212.50" cy="41.60" r="1.85" fill="#ee9a78"/>
<text x="223.40" y="44.10" font-size="9.0" fill="#111" stroke="#111" stroke-width="0.12"><tspan font-style="italic">L</tspan></text>
<line x1="230.80" y1="40.50" x2="236.90" y2="40.50" stroke="#222" stroke-width="0.75" stroke-linecap="butt"/>
<line x1="230.80" y1="42.60" x2="236.90" y2="42.60" stroke="#222" stroke-width="0.75" stroke-linecap="butt"/>
<text x="238.50" y="44.10" font-size="9.0" textLength="8.3" lengthAdjust="spacingAndGlyphs" fill="#111" stroke="#111" stroke-width="0.12">18</text>
<circle cx="212.50" cy="53.00" r="1.85" fill="#d56aa6"/>
<text x="223.40" y="55.50" font-size="9.0" fill="#111" stroke="#111" stroke-width="0.12"><tspan font-style="italic">L</tspan></text>
<line x1="230.80" y1="52.50" x2="236.90" y2="52.50" stroke="#222" stroke-width="0.75" stroke-linecap="butt"/>
<line x1="230.80" y1="54.60" x2="236.90" y2="54.60" stroke="#222" stroke-width="0.75" stroke-linecap="butt"/>
<text x="238.50" y="55.50" font-size="9.0" textLength="8.3" lengthAdjust="spacingAndGlyphs" fill="#111" stroke="#111" stroke-width="0.12">20</text>
<circle cx="212.50" cy="64.90" r="1.85" fill="#9a42cc"/>
<text x="223.40" y="67.40" font-size="9.0" fill="#111" stroke="#111" stroke-width="0.12"><tspan font-style="italic">L</tspan></text>
<line x1="230.80" y1="63.50" x2="236.90" y2="63.50" stroke="#222" stroke-width="0.75" stroke-linecap="butt"/>
<line x1="230.80" y1="65.60" x2="236.90" y2="65.60" stroke="#222" stroke-width="0.75" stroke-linecap="butt"/>
<text x="238.50" y="67.40" font-size="9.0" textLength="8.3" lengthAdjust="spacingAndGlyphs" fill="#111" stroke="#111" stroke-width="0.12">22</text>
<circle cx="212.50" cy="76.80" r="1.85" fill="#4242a6"/>
<text x="223.40" y="79.30" font-size="9.0" fill="#111" stroke="#111" stroke-width="0.12"><tspan font-style="italic">L</tspan></text>
<line x1="230.80" y1="75.50" x2="236.90" y2="75.50" stroke="#222" stroke-width="0.75" stroke-linecap="butt"/>
<line x1="230.80" y1="77.60" x2="236.90" y2="77.60" stroke="#222" stroke-width="0.75" stroke-linecap="butt"/>
<text x="238.50" y="79.30" font-size="9.0" textLength="8.3" lengthAdjust="spacingAndGlyphs" fill="#111" stroke="#111" stroke-width="0.12">24</text>
<rect x="267.60" y="76.10" width="63.40" height="29.20" rx="1.5" fill="rgba(255,255,255,0.8)" stroke="#d8d8d8" stroke-width="0.8"/>
<line x1="270.30" y1="82.40" x2="278.10" y2="82.40" stroke="#ff4a4a" stroke-width="1.2" stroke-linecap="butt"/>
<line x1="270.30" y1="96.40" x2="278.10" y2="96.40" stroke="#ff1a1a" stroke-width="1.2" stroke-linecap="butt" stroke-dasharray="2.7,1.5"/>
<text x="284.60" y="85.40" font-size="9.0" fill="#111" stroke="#111" stroke-width="0.12"><tspan font-style="italic">μ</tspan></text>
<text x="288.10" y="86.90" font-size="6.3" textLength="9.6" lengthAdjust="spacingAndGlyphs" fill="#111" stroke="#111" stroke-width="0.12">opt</text>
<text x="300.20" y="85.90" font-size="9.0" textLength="6.5" lengthAdjust="spacingAndGlyphs" fill="#111" stroke="#111" stroke-width="0.12">≈</text>
<text x="308.20" y="85.40" font-size="9.0" textLength="19.6" lengthAdjust="spacingAndGlyphs" fill="#111" stroke="#111" stroke-width="0.12">0.358</text>
<text x="284.60" y="99.30" font-size="9.0" fill="#111" stroke="#111" stroke-width="0.12"><tspan font-style="italic">μ</tspan></text>
<line x1="291.10" y1="95.50" x2="297.10" y2="95.50" stroke="#222" stroke-width="0.75" stroke-linecap="butt"/>
<line x1="291.10" y1="97.60" x2="297.10" y2="97.60" stroke="#222" stroke-width="0.75" stroke-linecap="butt"/>
<text x="299.40" y="99.30" font-size="9.0" textLength="16.5" lengthAdjust="spacingAndGlyphs" fill="#111" stroke="#111" stroke-width="0.12">5/14</text>
<rect x="274.50" y="110.50" width="58.80" height="58.80" rx="0" fill="#fff" stroke="#1a1a1a" stroke-width="1.0"/>
<line x1="311.80" y1="110.50" x2="311.80" y2="169.30" stroke="#ff6262" stroke-width="1.5" stroke-linecap="butt" stroke-dasharray="3.2,1.1"/>
<path d="M276.60,112.70 C277.70,113.50 280.88,115.52 283.20,117.50 C285.52,119.48 288.28,122.10 290.50,124.60 C292.72,127.10 294.67,129.80 296.50,132.50 C298.33,135.20 300.00,137.92 301.50,140.80 C303.00,143.68 304.25,146.85 305.50,149.80 C306.75,152.75 307.95,155.43 309.00,158.50 C310.05,161.57 311.33,166.58 311.80,168.20" fill="none" stroke="#2a2af0" stroke-width="1.2" stroke-linejoin="round"/>
<path d="M311.80,168.20 C312.33,166.67 313.85,162.32 315.00,159.00 C316.15,155.68 317.08,153.05 318.70,148.30 C320.32,143.55 322.68,136.33 324.70,130.50 C326.72,124.67 329.78,116.17 330.80,113.30" fill="none" stroke="#2a2af0" stroke-width="1.2" stroke-linejoin="round"/>
<line x1="274.50" y1="118.60" x2="276.50" y2="118.60" stroke="#1a1a1a" stroke-width="0.9" stroke-linecap="butt"/>
<text x="272.70" y="122.60" font-size="11.2" text-anchor="end" fill="#111" stroke="#111" stroke-width="0.12">0.03</text>
<line x1="274.50" y1="168.60" x2="276.50" y2="168.60" stroke="#1a1a1a" stroke-width="0.9" stroke-linecap="butt"/>
<text x="272.70" y="172.60" font-size="11.2" text-anchor="end" fill="#111" stroke="#111" stroke-width="0.12">0.00</text>
<line x1="280.50" y1="169.30" x2="280.50" y2="167.30" stroke="#1a1a1a" stroke-width="0.9" stroke-linecap="butt"/>
<text x="280.50" y="178.90" font-size="11.2" text-anchor="middle" fill="#111" stroke="#111" stroke-width="0.12">0.2</text>
<line x1="320.00" y1="169.30" x2="320.00" y2="167.30" stroke="#1a1a1a" stroke-width="0.9" stroke-linecap="butt"/>
<text x="320.00" y="178.90" font-size="11.2" text-anchor="middle" fill="#111" stroke="#111" stroke-width="0.12">0.4</text>
<path d="M258.00,141.90 C256.90,138.00 258.70,135.40 261.40,135.40 C264.30,135.40 265.90,138.30 265.70,142.70 M257.70,141.40 L265.70,142.60 M258.20,142.00 C257.80,143.20 258.30,144.20 259.30,144.50" fill="none" stroke="#1a1a1a" stroke-width="1.05" stroke-linecap="round" stroke-linejoin="round"/>
<text x="303.00" y="187.50" font-size="12.2" text-anchor="middle" fill="#111" stroke="#111" stroke-width="0.06"><tspan font-style="italic">μ</tspan></text>
<rect x="201.60" y="18.30" width="131.70" height="175.00" rx="0" fill="none" stroke="#1a1a1a" stroke-width="1.0"/>
<line x1="201.60" y1="30.40" x2="203.60" y2="30.40" stroke="#1a1a1a" stroke-width="0.9" stroke-linecap="butt"/>
<text x="199.80" y="34.40" font-size="11.2" text-anchor="end" fill="#111" stroke="#111" stroke-width="0.12">0.61</text>
<line x1="201.60" y1="84.90" x2="203.60" y2="84.90" stroke="#1a1a1a" stroke-width="0.9" stroke-linecap="butt"/>
<text x="199.80" y="88.90" font-size="11.2" text-anchor="end" fill="#111" stroke="#111" stroke-width="0.12">0.60</text>
<line x1="201.60" y1="139.40" x2="203.60" y2="139.40" stroke="#1a1a1a" stroke-width="0.9" stroke-linecap="butt"/>
<text x="199.80" y="143.40" font-size="11.2" text-anchor="end" fill="#111" stroke="#111" stroke-width="0.12">0.59</text>
<line x1="201.60" y1="193.90" x2="203.60" y2="193.90" stroke="#1a1a1a" stroke-width="0.9" stroke-linecap="butt"/>
<text x="199.80" y="197.90" font-size="11.2" text-anchor="end" fill="#111" stroke="#111" stroke-width="0.12">0.58</text>
<line x1="215.20" y1="193.30" x2="215.20" y2="191.30" stroke="#1a1a1a" stroke-width="0.9" stroke-linecap="butt"/>
<text x="215.20" y="202.90" font-size="11.2" text-anchor="middle" fill="#111" stroke="#111" stroke-width="0.12">0.090</text>
<line x1="249.80" y1="193.30" x2="249.80" y2="191.30" stroke="#1a1a1a" stroke-width="0.9" stroke-linecap="butt"/>
<text x="249.80" y="202.90" font-size="11.2" text-anchor="middle" fill="#111" stroke="#111" stroke-width="0.12">0.095</text>
<line x1="284.40" y1="193.30" x2="284.40" y2="191.30" stroke="#1a1a1a" stroke-width="0.9" stroke-linecap="butt"/>
<text x="284.40" y="202.90" font-size="11.2" text-anchor="middle" fill="#111" stroke="#111" stroke-width="0.12">0.100</text>
<line x1="319.00" y1="193.30" x2="319.00" y2="191.30" stroke="#1a1a1a" stroke-width="0.9" stroke-linecap="butt"/>
<text x="319.00" y="202.90" font-size="11.2" text-anchor="middle" fill="#111" stroke="#111" stroke-width="0.12">0.105</text>
<text x="266.65" y="217.60" font-size="12.2" text-anchor="middle" textLength="40.7" lengthAdjust="spacingAndGlyphs" fill="#111" stroke="#111" stroke-width="0.06">(<tspan font-style="italic">s</tspan><tspan dy="-4.39" dx="0.6" font-size="8.54" font-style="italic">μ</tspan><tspan dy="4.39" dx="1.2" font-style="italic">L</tspan>)<tspan dy="-4.39" dx="0.8" font-size="8.54">−1</tspan></text>
<text x="179.20" y="106.30" font-size="12.2" text-anchor="middle" transform="rotate(-90 179.20 106.30)" fill="#111" stroke="#111" stroke-width="0.06"><tspan font-style="italic">U</tspan><tspan dy="2.6" font-size="9.0">peak</tspan></text>
<text x="441.30" y="9.20" font-size="10.2" text-anchor="middle" textLength="147" lengthAdjust="spacingAndGlyphs" fill="#111" stroke="#111" stroke-width="0.05">Protocol I: across Ising near TCI</text>
<text x="348.50" y="9.30" font-size="13.5" font-weight="bold" fill="#111" stroke="#111" stroke-width="0.06">c</text>
<path d="M380.50,189.00 C382.92,184.67 390.08,171.67 395.00,163.00 C399.92,154.33 405.00,145.50 410.00,137.00 C415.00,128.50 420.00,120.00 425.00,112.00 C430.00,104.00 435.00,96.33 440.00,89.00 C445.00,81.67 450.00,74.67 455.00,68.00 C460.00,61.33 465.00,54.83 470.00,49.00 C475.00,43.17 481.00,37.25 485.00,33.00 C489.00,28.75 492.50,25.08 494.00,23.50" fill="none" stroke="#bdbdbd" stroke-width="2.2" stroke-linejoin="round" stroke-dasharray="5,3"/>
<circle cx="382.20" cy="185.70" r="1.85" fill="#f7cf45"/>
<circle cx="384.10" cy="180.90" r="1.85" fill="#e88a8a"/>
<circle cx="385.60" cy="178.50" r="1.85" fill="#9a42cc"/>
<circle cx="387.50" cy="174.60" r="1.85" fill="#4242a6"/>
<circle cx="398.30" cy="156.80" r="1.85" fill="#f7cf45"/>
<circle cx="401.90" cy="149.10" r="1.85" fill="#e88a8a"/>
<circle cx="405.00" cy="145.30" r="1.85" fill="#9a42cc"/>
<circle cx="408.20" cy="140.00" r="1.85" fill="#4242a6"/>
<circle cx="415.10" cy="129.20" r="1.85" fill="#f7cf45"/>
<circle cx="419.50" cy="120.50" r="1.85" fill="#e88a8a"/>
<circle cx="424.30" cy="114.50" r="1.85" fill="#9a42cc"/>
<circle cx="428.80" cy="107.50" r="1.85" fill="#4242a6"/>
<circle cx="431.00" cy="104.00" r="1.85" fill="#f7cf45"/>
<circle cx="437.70" cy="93.00" r="1.85" fill="#e88a8a"/>
<circle cx="443.50" cy="85.90" r="1.85" fill="#9a42cc"/>
<circle cx="447.30" cy="79.90" r="1.85" fill="#f7cf45"/>
<circle cx="449.70" cy="77.70" r="1.85" fill="#4242a6"/>
<circle cx="455.00" cy="67.90" r="1.85" fill="#e88a8a"/>
<circle cx="462.80" cy="60.20" r="1.85" fill="#9a42cc"/>
<circle cx="463.40" cy="57.80" r="1.85" fill="#f7cf45"/>
<circle cx="470.30" cy="50.80" r="1.85" fill="#4242a6"/>
<circle cx="473.20" cy="45.20" r="1.85" fill="#e88a8a"/>
<circle cx="482.20" cy="36.40" r="1.85" fill="#9a42cc"/>
<circle cx="491.50" cy="26.40" r="1.85" fill="#4242a6"/>
<rect x="379.70" y="22.70" width="44.60" height="49.20" rx="1.5" fill="rgba(255,255,255,0.8)" stroke="#d8d8d8" stroke-width="0.8"/>
<circle cx="386.30" cy="29.60" r="1.85" fill="#f7cf45"/>
<text x="397.20" y="32.10" font-size="9.0" fill="#111" stroke="#111" stroke-width="0.12"><tspan font-style="italic">L</tspan></text>
<line x1="404.60" y1="28.50" x2="410.70" y2="28.50" stroke="#222" stroke-width="0.75" stroke-linecap="butt"/>
<line x1="404.60" y1="30.60" x2="410.70" y2="30.60" stroke="#222" stroke-width="0.75" stroke-linecap="butt"/>
<text x="412.30" y="32.10" font-size="9.0" textLength="8.3" lengthAdjust="spacingAndGlyphs" fill="#111" stroke="#111" stroke-width="0.12">16</text>
<circle cx="386.30" cy="41.50" r="1.85" fill="#e88a8a"/>
<text x="397.20" y="44.00" font-size="9.0" fill="#111" stroke="#111" stroke-width="0.12"><tspan font-style="italic">L</tspan></text>
<line x1="404.60" y1="40.50" x2="410.70" y2="40.50" stroke="#222" stroke-width="0.75" stroke-linecap="butt"/>
<line x1="404.60" y1="42.60" x2="410.70" y2="42.60" stroke="#222" stroke-width="0.75" stroke-linecap="butt"/>
<text x="412.30" y="44.00" font-size="9.0" textLength="8.3" lengthAdjust="spacingAndGlyphs" fill="#111" stroke="#111" stroke-width="0.12">18</text>
<circle cx="386.30" cy="53.30" r="1.85" fill="#9a42cc"/>
<text x="397.20" y="55.80" font-size="9.0" fill="#111" stroke="#111" stroke-width="0.12"><tspan font-style="italic">L</tspan></text>
<line x1="404.60" y1="52.50" x2="410.70" y2="52.50" stroke="#222" stroke-width="0.75" stroke-linecap="butt"/>
<line x1="404.60" y1="54.60" x2="410.70" y2="54.60" stroke="#222" stroke-width="0.75" stroke-linecap="butt"/>
<text x="412.30" y="55.80" font-size="9.0" textLength="8.3" lengthAdjust="spacingAndGlyphs" fill="#111" stroke="#111" stroke-width="0.12">20</text>
<circle cx="386.30" cy="64.90" r="1.85" fill="#4242a6"/>
<text x="397.20" y="67.40" font-size="9.0" fill="#111" stroke="#111" stroke-width="0.12"><tspan font-style="italic">L</tspan></text>
<line x1="404.60" y1="63.50" x2="410.70" y2="63.50" stroke="#222" stroke-width="0.75" stroke-linecap="butt"/>
<line x1="404.60" y1="65.60" x2="410.70" y2="65.60" stroke="#222" stroke-width="0.75" stroke-linecap="butt"/>
<text x="412.30" y="67.40" font-size="9.0" textLength="8.3" lengthAdjust="spacingAndGlyphs" fill="#111" stroke="#111" stroke-width="0.12">22</text>
<rect x="377.70" y="75.60" width="57.80" height="11.40" rx="0" fill="#fff" stroke="#8a8a8a" stroke-width="0.9"/>
<text x="379.80" y="83.70" font-size="9.2" fill="#111" stroke="#111" stroke-width="0.12">fix</text>
<text x="392.40" y="83.70" font-size="9.2" fill="#111" stroke="#111" stroke-width="0.12"><tspan font-style="italic">s</tspan></text>
<text x="395.80" y="80.60" font-size="6.4" fill="#111" stroke="#111" stroke-width="0.12"><tspan font-style="italic">ν</tspan></text>
<text x="401.00" y="83.70" font-size="9.2" fill="#111" stroke="#111" stroke-width="0.12"><tspan font-style="italic">L</tspan></text>
<line x1="408.80" y1="80.50" x2="414.80" y2="80.50" stroke="#222" stroke-width="0.75" stroke-linecap="butt"/>
<line x1="408.80" y1="82.60" x2="414.80" y2="82.60" stroke="#222" stroke-width="0.75" stroke-linecap="butt"/>
<text x="417.50" y="83.70" font-size="9.2" textLength="15.1" lengthAdjust="spacingAndGlyphs" fill="#111" stroke="#111" stroke-width="0.12">10.3</text>
<rect x="455.90" y="68.30" width="49.10" height="27.60" rx="1.5" fill="rgba(255,255,255,0.8)" stroke="#d8d8d8" stroke-width="0.8"/>
<ellipse cx="462.10" cy="75.20" rx="4.70" ry="1.55" transform="rotate(-26 462.10 75.20)" fill="none" stroke="#ff2020" stroke-width="1.0"/>
<text x="472.80" y="78.40" font-size="9.0" fill="#111" stroke="#111" stroke-width="0.12">optimal</text>
<line x1="458.50" y1="87.80" x2="466.50" y2="87.80" stroke="#ff2020" stroke-width="1.1" stroke-linecap="butt" stroke-dasharray="2.6,1.6"/>
<text x="472.60" y="90.60" font-size="9.0" fill="#111" stroke="#111" stroke-width="0.12"><tspan font-style="italic">ν</tspan></text>
<text x="476.50" y="91.20" font-size="11.25" fill="#111" stroke="#111" stroke-width="0.12">′</text>
<line x1="482.20" y1="87.50" x2="488.40" y2="87.50" stroke="#222" stroke-width="0.75" stroke-linecap="butt"/>
<line x1="482.20" y1="89.60" x2="488.40" y2="89.60" stroke="#222" stroke-width="0.75" stroke-linecap="butt"/>
<text x="490.90" y="90.60" font-size="9.0" textLength="10.8" lengthAdjust="spacingAndGlyphs" fill="#111" stroke="#111" stroke-width="0.12">5/4</text>
<defs><linearGradient id="cbg" x1="0" x2="1" y1="0" y2="0"><stop offset="0" stop-color="#e80818"/><stop offset="0.12" stop-color="#b0081e"/><stop offset="0.45" stop-color="#720a30"/><stop offset="0.75" stop-color="#561070"/><stop offset="1" stop-color="#4a14a0"/></linearGradient></defs>
<rect x="451" y="107.9" width="41.9" height="3.0" fill="url(#cbg)"/>
<text x="437.00" y="106.00" font-size="6.9" textLength="28" lengthAdjust="spacingAndGlyphs" fill="#ff3a3a" stroke="#ff3a3a" stroke-width="0.12">3.5<tspan dx="0.5">×</tspan><tspan dx="0.5">10</tspan><tspan dy="-2.8" font-size="5.0">−4</tspan></text>
<text x="478.80" y="106.00" font-size="6.9" textLength="27.1" lengthAdjust="spacingAndGlyphs" fill="#8a40d0" stroke="#8a40d0" stroke-width="0.12">2.8<tspan dx="0.5">×</tspan><tspan dx="0.5">10</tspan><tspan dy="-2.8" font-size="5.0">−3</tspan></text>
<rect x="447.50" y="116.90" width="59.30" height="52.00" rx="0" fill="#fff" stroke="#1a1a1a" stroke-width="1.0"/>
<clipPath id="clc"><rect x="447.5" y="116.9" width="59.30000000000001" height="52.0"/></clipPath>
<g clip-path="url(#clc)">
<path d="M486.60,116.00 C484.17,119.17 476.10,129.73 472.00,135.00 C467.90,140.27 464.42,144.47 462.00,147.60 C459.58,150.73 458.73,152.07 457.50,153.80 C456.27,155.53 455.23,156.73 454.60,158.00 C453.97,159.27 453.70,160.27 453.70,161.40 C453.70,162.53 454.05,163.73 454.60,164.80 C455.15,165.87 456.33,166.93 457.00,167.80 C457.67,168.67 458.33,169.63 458.60,170.00" fill="none" stroke="#7a2ed4" stroke-width="1.3" stroke-linejoin="round"/>
<path d="M498.50,116.00 C496.08,118.42 488.58,125.92 484.00,130.50 C479.42,135.08 474.67,139.83 471.00,143.50 C467.33,147.17 464.25,150.17 462.00,152.50 C459.75,154.83 458.55,156.15 457.50,157.50 C456.45,158.85 455.75,159.58 455.70,160.60 C455.65,161.62 456.32,162.82 457.20,163.60 C458.08,164.38 459.53,164.93 461.00,165.30 C462.47,165.67 462.83,165.98 466.00,165.80 C469.17,165.62 475.33,164.83 480.00,164.20 C484.67,163.57 489.42,162.73 494.00,162.00 C498.58,161.27 505.25,160.17 507.50,159.80" fill="none" stroke="#a02a98" stroke-width="1.3" stroke-linejoin="round"/>
<path d="M507.50,121.60 C505.25,123.25 498.58,128.10 494.00,131.50 C489.42,134.90 484.33,138.67 480.00,142.00 C475.67,145.33 471.08,149.08 468.00,151.50 C464.92,153.92 463.00,155.20 461.50,156.50 C460.00,157.80 459.22,158.50 459.00,159.30 C458.78,160.10 459.45,160.87 460.20,161.30 C460.95,161.73 461.53,162.12 463.50,161.90 C465.47,161.68 468.25,161.15 472.00,160.00 C475.75,158.85 481.67,156.58 486.00,155.00 C490.33,153.42 494.42,151.90 498.00,150.50 C501.58,149.10 505.92,147.25 507.50,146.60" fill="none" stroke="#d2204c" stroke-width="1.3" stroke-linejoin="round"/>
<ellipse cx="479.80" cy="149.00" rx="21.30" ry="4.00" transform="rotate(-28.3 479.80 149.00)" fill="none" stroke="#e81c30" stroke-width="1.2"/>
<ellipse cx="472.20" cy="153.80" rx="9.30" ry="2.30" transform="rotate(-26.7 472.20 153.80)" fill="none" stroke="#ee1828" stroke-width="1.2"/>
<ellipse cx="469.60" cy="155.00" rx="4.00" ry="1.40" transform="rotate(-26 469.60 155.00)" fill="none" stroke="#f41420" stroke-width="1.2"/>
</g>
<line x1="447.50" y1="156.00" x2="506.80" y2="156.00" stroke="#333" stroke-width="1.0" stroke-linecap="butt" stroke-dasharray="3,2"/>
<line x1="469.00" y1="116.90" x2="469.00" y2="168.90" stroke="#ff4c4c" stroke-width="1.5" stroke-linecap="butt" stroke-dasharray="3.2,1.1"/>
<rect x="447.50" y="116.90" width="59.30" height="52.00" rx="0" fill="none" stroke="#1a1a1a" stroke-width="1.0"/>
<line x1="447.50" y1="117.20" x2="449.50" y2="117.20" stroke="#1a1a1a" stroke-width="0.9" stroke-linecap="butt"/>
<text x="445.70" y="121.20" font-size="11.2" text-anchor="end" fill="#111" stroke="#111" stroke-width="0.12">0.1</text>
<line x1="447.50" y1="155.60" x2="449.50" y2="155.60" stroke="#1a1a1a" stroke-width="0.9" stroke-linecap="butt"/>
<text x="445.70" y="159.60" font-size="11.2" text-anchor="end" fill="#111" stroke="#111" stroke-width="0.12">0.0</text>
<line x1="447.90" y1="168.90" x2="447.90" y2="166.90" stroke="#1a1a1a" stroke-width="0.9" stroke-linecap="butt"/>
<text x="447.90" y="178.60" font-size="11.2" text-anchor="middle" fill="#111" stroke="#111" stroke-width="0.12">0</text>
<line x1="464.80" y1="168.90" x2="464.80" y2="166.90" stroke="#1a1a1a" stroke-width="0.9" stroke-linecap="butt"/>
<text x="464.80" y="178.60" font-size="11.2" text-anchor="middle" fill="#111" stroke="#111" stroke-width="0.12">1</text>
<line x1="481.70" y1="168.90" x2="481.70" y2="166.90" stroke="#1a1a1a" stroke-width="0.9" stroke-linecap="butt"/>
<text x="481.70" y="178.60" font-size="11.2" text-anchor="middle" fill="#111" stroke="#111" stroke-width="0.12">2</text>
<line x1="498.60" y1="168.90" x2="498.60" y2="166.90" stroke="#1a1a1a" stroke-width="0.9" stroke-linecap="butt"/>
<text x="498.60" y="178.60" font-size="11.2" text-anchor="middle" fill="#111" stroke="#111" stroke-width="0.12">3</text>
<text x="476.50" y="188.40" font-size="12.2" text-anchor="middle" fill="#111" stroke="#111" stroke-width="0.06"><tspan font-style="italic">ν</tspan><tspan font-size="15" dx="0.3">′</tspan></text>
<text x="427.60" y="144.30" font-size="12.2" text-anchor="middle" textLength="28.3" lengthAdjust="spacingAndGlyphs" transform="rotate(-90 427.60 144.30)" fill="#111" stroke="#111" stroke-width="0.06"><tspan font-style="italic">δ</tspan>Ω<tspan dy="2.4" font-size="8.54">TCI</tspan></text>
<rect x="375.50" y="18.30" width="131.50" height="175.00" rx="0" fill="none" stroke="#1a1a1a" stroke-width="1.0"/>
<line x1="375.50" y1="37.50" x2="377.50" y2="37.50" stroke="#1a1a1a" stroke-width="0.9" stroke-linecap="butt"/>
<text x="373.70" y="41.50" font-size="11.2" text-anchor="end" fill="#111" stroke="#111" stroke-width="0.12">0.616</text>
<line x1="375.50" y1="85.80" x2="377.50" y2="85.80" stroke="#1a1a1a" stroke-width="0.9" stroke-linecap="butt"/>
<text x="373.70" y="89.80" font-size="11.2" text-anchor="end" fill="#111" stroke="#111" stroke-width="0.12">0.612</text>
<line x1="375.50" y1="134.00" x2="377.50" y2="134.00" stroke="#1a1a1a" stroke-width="0.9" stroke-linecap="butt"/>
<text x="373.70" y="138.00" font-size="11.2" text-anchor="end" fill="#111" stroke="#111" stroke-width="0.12">0.608</text>
<line x1="375.50" y1="182.30" x2="377.50" y2="182.30" stroke="#1a1a1a" stroke-width="0.9" stroke-linecap="butt"/>
<text x="373.70" y="186.30" font-size="11.2" text-anchor="end" fill="#111" stroke="#111" stroke-width="0.12">0.604</text>
<line x1="401.90" y1="193.30" x2="401.90" y2="191.30" stroke="#1a1a1a" stroke-width="0.9" stroke-linecap="butt"/>
<text x="401.90" y="202.90" font-size="11.2" text-anchor="middle" fill="#111" stroke="#111" stroke-width="0.12">0.2</text>
<line x1="436.90" y1="193.30" x2="436.90" y2="191.30" stroke="#1a1a1a" stroke-width="0.9" stroke-linecap="butt"/>
<text x="436.90" y="202.90" font-size="11.2" text-anchor="middle" fill="#111" stroke="#111" stroke-width="0.12">0.4</text>
<line x1="471.90" y1="193.30" x2="471.90" y2="191.30" stroke="#1a1a1a" stroke-width="0.9" stroke-linecap="butt"/>
<text x="471.90" y="202.90" font-size="11.2" text-anchor="middle" fill="#111" stroke="#111" stroke-width="0.12">0.6</text>
<line x1="506.90" y1="193.30" x2="506.90" y2="191.30" stroke="#1a1a1a" stroke-width="0.9" stroke-linecap="butt"/>
<text x="506.90" y="202.90" font-size="11.2" text-anchor="middle" fill="#111" stroke="#111" stroke-width="0.12">0.8</text>
<text x="441.20" y="215.70" font-size="12.2" text-anchor="middle" textLength="31.4" lengthAdjust="spacingAndGlyphs" fill="#111" stroke="#111" stroke-width="0.06"><tspan font-style="italic">h</tspan><tspan font-style="italic">L</tspan><tspan dy="-4.39" dx="1.5" font-size="8.54">1/</tspan><tspan font-size="8.54" font-style="italic">ν</tspan><tspan font-size="8.54">′</tspan></text>
<text x="352.90" y="106.30" font-size="12.2" text-anchor="middle" transform="rotate(-90 352.90 106.30)" fill="#111" stroke="#111" stroke-width="0.06"><tspan font-style="italic">U</tspan><tspan dy="2.6" font-size="9.0">peak</tspan></text>
<text x="615.05" y="9.20" font-size="10.2" text-anchor="middle" textLength="139.5" lengthAdjust="spacingAndGlyphs" fill="#111" stroke="#111" stroke-width="0.05">Protocol II: tangential ramping</text>
<text x="522.80" y="9.30" font-size="13.5" font-weight="bold" fill="#111" stroke="#111" stroke-width="0.06">d</text>
<path d="M564.00,186.50 C564.50,183.92 566.00,175.42 567.00,171.00 C568.00,166.58 568.92,163.75 570.00,160.00 C571.08,156.25 572.33,152.17 573.50,148.50 C574.67,144.83 575.67,141.75 577.00,138.00 C578.33,134.25 580.00,129.83 581.50,126.00 C583.00,122.17 584.42,118.58 586.00,115.00 C587.58,111.42 589.33,107.83 591.00,104.50 C592.67,101.17 593.83,98.92 596.00,95.00 C598.17,91.08 600.83,85.92 604.00,81.00 C607.17,76.08 612.00,69.33 615.00,65.50 C618.00,61.67 619.50,60.50 622.00,58.00 C624.50,55.50 625.83,53.42 630.00,50.50 C634.17,47.58 641.33,43.52 647.00,40.50 C652.67,37.48 658.67,34.60 664.00,32.40 C669.33,30.20 676.50,28.15 679.00,27.30" fill="none" stroke="#bdbdbd" stroke-width="2.2" stroke-linejoin="round" stroke-dasharray="5,3"/>
<circle cx="564.40" cy="185.00" r="1.85" fill="#4242a6"/>
<circle cx="570.00" cy="160.30" r="1.85" fill="#4242a6"/>
<circle cx="571.20" cy="162.80" r="1.85" fill="#9a42cc"/>
<circle cx="576.80" cy="137.80" r="1.85" fill="#4242a6"/>
<circle cx="577.40" cy="139.60" r="1.85" fill="#9a42cc"/>
<circle cx="578.30" cy="139.00" r="1.85" fill="#ee9a78"/>
<circle cx="584.50" cy="118.00" r="1.85" fill="#9a42cc"/>
<circle cx="586.00" cy="113.40" r="1.85" fill="#4242a6"/>
<circle cx="588.50" cy="113.00" r="1.85" fill="#ee9a78"/>
<circle cx="593.80" cy="98.00" r="1.85" fill="#9a42cc"/>
<circle cx="595.30" cy="96.40" r="1.85" fill="#d56aa6"/>
<circle cx="597.80" cy="93.30" r="1.85" fill="#4242a6"/>
<circle cx="599.30" cy="87.80" r="1.85" fill="#f7cf45"/>
<circle cx="604.10" cy="79.80" r="1.85" fill="#ee9a78"/>
<circle cx="607.00" cy="78.50" r="1.85" fill="#9a42cc"/>
<circle cx="608.20" cy="72.40" r="1.85" fill="#f7cf45"/>
<circle cx="615.60" cy="65.00" r="1.85" fill="#4242a6"/>
<circle cx="616.40" cy="63.80" r="1.85" fill="#ee9a78"/>
<circle cx="618.40" cy="63.30" r="1.85" fill="#d56aa6"/>
<circle cx="618.40" cy="58.40" r="1.85" fill="#f7cf45"/>
<circle cx="626.60" cy="53.90" r="1.85" fill="#9a42cc"/>
<circle cx="631.60" cy="48.80" r="1.85" fill="#ee9a78"/>
<circle cx="640.30" cy="43.50" r="1.85" fill="#d56aa6"/>
<circle cx="646.40" cy="41.90" r="1.85" fill="#4242a6"/>
<circle cx="647.40" cy="39.40" r="1.85" fill="#d56aa6"/>
<circle cx="649.40" cy="36.50" r="1.85" fill="#f7cf45"/>
<circle cx="656.00" cy="34.50" r="1.85" fill="#ee9a78"/>
<circle cx="660.10" cy="34.50" r="1.85" fill="#9a42cc"/>
<circle cx="665.00" cy="31.50" r="1.85" fill="#ee9a78"/>
<circle cx="673.30" cy="29.20" r="1.85" fill="#ee9a78"/>
<circle cx="676.50" cy="28.70" r="1.85" fill="#d56aa6"/>
<circle cx="676.50" cy="25.40" r="1.85" fill="#f7cf45"/>
<rect x="553.50" y="22.80" width="44.80" height="61.10" rx="1.5" fill="rgba(255,255,255,0.8)" stroke="#d8d8d8" stroke-width="0.8"/>
<circle cx="560.50" cy="29.50" r="1.85" fill="#f7cf45"/>
<text x="571.20" y="32.00" font-size="9.0" fill="#111" stroke="#111" stroke-width="0.12"><tspan font-style="italic">L</tspan></text>
<line x1="578.60" y1="28.50" x2="584.70" y2="28.50" stroke="#222" stroke-width="0.75" stroke-linecap="butt"/>
<line x1="578.60" y1="30.60" x2="584.70" y2="30.60" stroke="#222" stroke-width="0.75" stroke-linecap="butt"/>
<text x="586.30" y="32.00" font-size="9.0" textLength="8.3" lengthAdjust="spacingAndGlyphs" fill="#111" stroke="#111" stroke-width="0.12">16</text>
<circle cx="560.50" cy="41.70" r="1.85" fill="#ee9a78"/>
<text x="571.20" y="44.20" font-size="9.0" fill="#111" stroke="#111" stroke-width="0.12"><tspan font-style="italic">L</tspan></text>
<line x1="578.60" y1="40.50" x2="584.70" y2="40.50" stroke="#222" stroke-width="0.75" stroke-linecap="butt"/>
<line x1="578.60" y1="42.60" x2="584.70" y2="42.60" stroke="#222" stroke-width="0.75" stroke-linecap="butt"/>
<text x="586.30" y="44.20" font-size="9.0" textLength="8.3" lengthAdjust="spacingAndGlyphs" fill="#111" stroke="#111" stroke-width="0.12">18</text>
<circle cx="560.50" cy="53.20" r="1.85" fill="#d56aa6"/>
<text x="571.20" y="55.70" font-size="9.0" fill="#111" stroke="#111" stroke-width="0.12"><tspan font-style="italic">L</tspan></text>
<line x1="578.60" y1="52.50" x2="584.70" y2="52.50" stroke="#222" stroke-width="0.75" stroke-linecap="butt"/>
<line x1="578.60" y1="54.60" x2="584.70" y2="54.60" stroke="#222" stroke-width="0.75" stroke-linecap="butt"/>
<text x="586.30" y="55.70" font-size="9.0" textLength="8.3" lengthAdjust="spacingAndGlyphs" fill="#111" stroke="#111" stroke-width="0.12">20</text>
<circle cx="560.50" cy="65.20" r="1.85" fill="#9a42cc"/>
<text x="571.20" y="67.70" font-size="9.0" fill="#111" stroke="#111" stroke-width="0.12"><tspan font-style="italic">L</tspan></text>
<line x1="578.60" y1="64.50" x2="584.70" y2="64.50" stroke="#222" stroke-width="0.75" stroke-linecap="butt"/>
<line x1="578.60" y1="66.60" x2="584.70" y2="66.60" stroke="#222" stroke-width="0.75" stroke-linecap="butt"/>
<text x="586.30" y="67.70" font-size="9.0" textLength="8.3" lengthAdjust="spacingAndGlyphs" fill="#111" stroke="#111" stroke-width="0.12">22</text>
<circle cx="560.50" cy="77.20" r="1.85" fill="#4242a6"/>
<text x="571.20" y="79.70" font-size="9.0" fill="#111" stroke="#111" stroke-width="0.12"><tspan font-style="italic">L</tspan></text>
<line x1="578.60" y1="76.50" x2="584.70" y2="76.50" stroke="#222" stroke-width="0.75" stroke-linecap="butt"/>
<line x1="578.60" y1="78.60" x2="584.70" y2="78.60" stroke="#222" stroke-width="0.75" stroke-linecap="butt"/>
<text x="586.30" y="79.70" font-size="9.0" textLength="8.3" lengthAdjust="spacingAndGlyphs" fill="#111" stroke="#111" stroke-width="0.12">24</text>
<rect x="615.50" y="74.50" width="64.30" height="30.60" rx="1.5" fill="rgba(255,255,255,0.8)" stroke="#d8d8d8" stroke-width="0.8"/>
<line x1="618.50" y1="82.50" x2="626.20" y2="82.50" stroke="#ff8080" stroke-width="1.2" stroke-linecap="butt"/>
<line x1="618.50" y1="97.40" x2="626.20" y2="97.40" stroke="#ff1a1a" stroke-width="1.2" stroke-linecap="butt" stroke-dasharray="2.7,1.5"/>
<text x="632.20" y="84.90" font-size="9.0" fill="#111" stroke="#111" stroke-width="0.12"><tspan font-style="italic">μ</tspan></text>
<text x="636.80" y="84.70" font-size="10.35" fill="#111" stroke="#111" stroke-width="0.12">′</text>
<text x="637.00" y="87.30" font-size="6.3" textLength="9.4" lengthAdjust="spacingAndGlyphs" fill="#111" stroke="#111" stroke-width="0.12">opt</text>
<text x="648.20" y="85.40" font-size="9.0" textLength="7.0" lengthAdjust="spacingAndGlyphs" fill="#111" stroke="#111" stroke-width="0.12">≈</text>
<text x="656.30" y="84.90" font-size="9.0" textLength="18.2" lengthAdjust="spacingAndGlyphs" fill="#111" stroke="#111" stroke-width="0.12">0.551</text>
<text x="632.20" y="99.60" font-size="9.0" fill="#111" stroke="#111" stroke-width="0.12"><tspan font-style="italic">μ</tspan></text>
<text x="636.80" y="99.40" font-size="10.35" fill="#111" stroke="#111" stroke-width="0.12">′</text>
<line x1="642.00" y1="96.50" x2="647.90" y2="96.50" stroke="#222" stroke-width="0.75" stroke-linecap="butt"/>
<line x1="642.00" y1="98.60" x2="647.90" y2="98.60" stroke="#222" stroke-width="0.75" stroke-linecap="butt"/>
<text x="649.70" y="99.60" font-size="9.0" textLength="12.8" lengthAdjust="spacingAndGlyphs" fill="#111" stroke="#111" stroke-width="0.12">5/9</text>
<rect x="621.70" y="110.20" width="59.00" height="58.90" rx="0" fill="#fff" stroke="#1a1a1a" stroke-width="1.0"/>
<line x1="643.80" y1="110.20" x2="643.80" y2="169.10" stroke="#ff4c4c" stroke-width="1.5" stroke-linecap="butt" stroke-dasharray="3.2,1.1"/>
<path d="M624.20,111.80 C625.10,114.37 627.90,122.22 629.60,127.20 C631.30,132.18 632.90,137.40 634.40,141.70 C635.90,146.00 637.50,150.30 638.60,153.00 C639.70,155.70 640.18,156.73 641.00,157.90 C641.82,159.07 642.68,159.88 643.50,160.00 C644.32,160.12 645.05,159.43 645.90,158.60 C646.75,157.77 647.15,157.02 648.60,155.00 C650.05,152.98 652.00,150.00 654.60,146.50 C657.20,143.00 661.55,137.28 664.20,134.00 C666.85,130.72 668.25,129.15 670.50,126.80 C672.75,124.45 676.50,121.05 677.70,119.90" fill="none" stroke="#2a2af0" stroke-width="1.2" stroke-linejoin="round"/>
<line x1="621.70" y1="122.10" x2="623.70" y2="122.10" stroke="#1a1a1a" stroke-width="0.9" stroke-linecap="butt"/>
<text x="619.90" y="126.10" font-size="11.2" text-anchor="end" fill="#111" stroke="#111" stroke-width="0.12">0.02</text>
<line x1="621.70" y1="168.20" x2="623.70" y2="168.20" stroke="#1a1a1a" stroke-width="0.9" stroke-linecap="butt"/>
<text x="619.90" y="172.20" font-size="11.2" text-anchor="end" fill="#111" stroke="#111" stroke-width="0.12">0.00</text>
<line x1="639.50" y1="169.10" x2="639.50" y2="167.10" stroke="#1a1a1a" stroke-width="0.9" stroke-linecap="butt"/>
<text x="639.50" y="178.40" font-size="11.2" text-anchor="middle" fill="#111" stroke="#111" stroke-width="0.12">0.5</text>
<line x1="672.90" y1="169.10" x2="672.90" y2="167.10" stroke="#1a1a1a" stroke-width="0.9" stroke-linecap="butt"/>
<text x="672.90" y="178.40" font-size="11.2" text-anchor="middle" fill="#111" stroke="#111" stroke-width="0.12">0.9</text>
<path d="M605.85,142.20 C604.80,138.30 606.51,135.70 609.08,135.70 C611.83,135.70 613.36,138.60 613.16,143.00 M605.56,141.70 L613.16,142.90 M606.04,142.30 C605.66,143.50 606.13,144.50 607.08,144.80" fill="none" stroke="#1a1a1a" stroke-width="1.05" stroke-linecap="round" stroke-linejoin="round"/>
<text x="649.50" y="187.30" font-size="12.2" text-anchor="middle" fill="#111" stroke="#111" stroke-width="0.06"><tspan font-style="italic">μ</tspan>′</text>
<rect x="549.40" y="18.30" width="131.30" height="175.00" rx="0" fill="none" stroke="#1a1a1a" stroke-width="1.0"/>
<line x1="549.40" y1="19.40" x2="551.40" y2="19.40" stroke="#1a1a1a" stroke-width="0.9" stroke-linecap="butt"/>
<text x="547.60" y="23.40" font-size="11.2" text-anchor="end" fill="#111" stroke="#111" stroke-width="0.12">0.65</text>
<line x1="549.40" y1="79.40" x2="551.40" y2="79.40" stroke="#1a1a1a" stroke-width="0.9" stroke-linecap="butt"/>
<text x="547.60" y="83.40" font-size="11.2" text-anchor="end" fill="#111" stroke="#111" stroke-width="0.12">0.63</text>
<line x1="549.40" y1="139.40" x2="551.40" y2="139.40" stroke="#1a1a1a" stroke-width="0.9" stroke-linecap="butt"/>
<text x="547.60" y="143.40" font-size="11.2" text-anchor="end" fill="#111" stroke="#111" stroke-width="0.12">0.61</text>
<line x1="582.20" y1="193.30" x2="582.20" y2="191.30" stroke="#1a1a1a" stroke-width="0.9" stroke-linecap="butt"/>
<text x="582.20" y="202.90" font-size="11.2" text-anchor="middle" fill="#111" stroke="#111" stroke-width="0.12">0.04</text>
<line x1="626.20" y1="193.30" x2="626.20" y2="191.30" stroke="#1a1a1a" stroke-width="0.9" stroke-linecap="butt"/>
<text x="626.20" y="202.90" font-size="11.2" text-anchor="middle" fill="#111" stroke="#111" stroke-width="0.12">0.06</text>
<line x1="670.20" y1="193.30" x2="670.20" y2="191.30" stroke="#1a1a1a" stroke-width="0.9" stroke-linecap="butt"/>
<text x="670.20" y="202.90" font-size="11.2" text-anchor="middle" fill="#111" stroke="#111" stroke-width="0.12">0.08</text>
<text x="614.20" y="217.60" font-size="12.2" text-anchor="middle" textLength="43.6" lengthAdjust="spacingAndGlyphs" fill="#111" stroke="#111" stroke-width="0.06">(<tspan font-style="italic">s</tspan><tspan dy="-4.39" dx="0.6" font-size="8.54" font-style="italic">μ</tspan><tspan font-size="7.69">′</tspan><tspan dy="4.39" dx="1.2" font-style="italic">L</tspan>)<tspan dy="-4.39" dx="0.8" font-size="8.54">−1</tspan></text>
<text x="526.40" y="105.90" font-size="12.2" text-anchor="middle" transform="rotate(-90 526.40 105.90)" fill="#111" stroke="#111" stroke-width="0.06"><tspan font-style="italic">U</tspan><tspan dy="2.6" font-size="8.54">valley</tspan></text>
<polyline points="515.90,121.00 515.50,120.25 515.21,119.50 515.10,118.75 515.21,118.00 515.50,117.25 515.90,116.50 516.30,115.75 516.59,115.00 516.70,114.25 516.59,113.50 516.30,112.75 515.90,112.00" fill="none" stroke="#222" stroke-width="0.7" stroke-linejoin="round" stroke-linecap="round"/>
<text x="175.80" y="233.40" font-size="13.5" font-weight="bold" fill="#111" stroke="#111" stroke-width="0.06">f</text>
<path d="M205.50,403.00 C207.08,399.67 211.75,389.83 215.00,383.00 C218.25,376.17 221.67,368.83 225.00,362.00 C228.33,355.17 231.67,348.67 235.00,342.00 C238.33,335.33 241.67,328.50 245.00,322.00 C248.33,315.50 251.67,309.00 255.00,303.00 C258.33,297.00 261.67,291.17 265.00,286.00 C268.33,280.83 271.67,276.42 275.00,272.00 C278.33,267.58 281.67,263.33 285.00,259.50 C288.33,255.67 292.00,252.08 295.00,249.00 C298.00,245.92 301.67,242.33 303.00,241.00" fill="none" stroke="#bdbdbd" stroke-width="2.2" stroke-linejoin="round" stroke-dasharray="5,3"/>
<circle cx="207.40" cy="399.10" r="1.85" fill="#c050c0"/>
<circle cx="209.70" cy="394.30" r="1.85" fill="#8a40d0"/>
<circle cx="211.20" cy="390.90" r="1.85" fill="#3a2aa0"/>
<circle cx="214.80" cy="383.20" r="1.85" fill="#c050c0"/>
<circle cx="219.80" cy="374.10" r="1.85" fill="#8a40d0"/>
<circle cx="223.70" cy="365.20" r="1.85" fill="#c050c0"/>
<circle cx="228.00" cy="357.80" r="1.85" fill="#f3a162"/>
<circle cx="231.80" cy="350.60" r="1.85" fill="#8a40d0"/>
<circle cx="232.80" cy="345.40" r="1.85" fill="#e07890"/>
<circle cx="236.20" cy="338.90" r="1.85" fill="#c050c0"/>
<circle cx="240.80" cy="330.00" r="1.85" fill="#f3a162"/>
<circle cx="245.30" cy="321.60" r="1.85" fill="#e07890"/>
<circle cx="251.40" cy="311.30" r="1.85" fill="#c050c0"/>
<circle cx="253.70" cy="305.80" r="1.85" fill="#e07890"/>
<circle cx="256.30" cy="300.30" r="1.85" fill="#f3a162"/>
<circle cx="263.30" cy="290.00" r="1.85" fill="#e07890"/>
<circle cx="265.60" cy="285.90" r="1.85" fill="#f3a162"/>
<circle cx="270.40" cy="278.10" r="1.85" fill="#f3a162"/>
<circle cx="276.10" cy="271.00" r="1.85" fill="#f3a162"/>
<circle cx="280.40" cy="265.70" r="1.85" fill="#f7cf45"/>
<circle cx="281.90" cy="264.20" r="1.85" fill="#f3a162"/>
<circle cx="283.80" cy="261.10" r="1.85" fill="#f7cf45"/>
<circle cx="287.90" cy="256.90" r="1.85" fill="#f3a162"/>
<circle cx="292.00" cy="251.80" r="1.85" fill="#f7cf45"/>
<circle cx="296.50" cy="247.60" r="1.85" fill="#f7cf45"/>
<circle cx="301.20" cy="243.50" r="1.85" fill="#f7cf45"/>
<rect x="205.60" y="238.00" width="44.50" height="73.80" rx="1.5" fill="rgba(255,255,255,0.8)" stroke="#d8d8d8" stroke-width="0.8"/>
<circle cx="212.40" cy="245.40" r="1.85" fill="#f7cf45"/>
<text x="223.10" y="247.90" font-size="9.0" fill="#111" stroke="#111" stroke-width="0.12"><tspan font-style="italic">L</tspan></text>
<line x1="230.50" y1="244.50" x2="236.60" y2="244.50" stroke="#222" stroke-width="0.75" stroke-linecap="butt"/>
<line x1="230.50" y1="246.60" x2="236.60" y2="246.60" stroke="#222" stroke-width="0.75" stroke-linecap="butt"/>
<text x="238.20" y="247.90" font-size="9.0" textLength="8.3" lengthAdjust="spacingAndGlyphs" fill="#111" stroke="#111" stroke-width="0.12">16</text>
<circle cx="212.40" cy="257.30" r="1.85" fill="#f3a162"/>
<text x="223.10" y="259.80" font-size="9.0" fill="#111" stroke="#111" stroke-width="0.12"><tspan font-style="italic">L</tspan></text>
<line x1="230.50" y1="256.50" x2="236.60" y2="256.50" stroke="#222" stroke-width="0.75" stroke-linecap="butt"/>
<line x1="230.50" y1="258.60" x2="236.60" y2="258.60" stroke="#222" stroke-width="0.75" stroke-linecap="butt"/>
<text x="238.20" y="259.80" font-size="9.0" textLength="8.3" lengthAdjust="spacingAndGlyphs" fill="#111" stroke="#111" stroke-width="0.12">24</text>
<circle cx="212.40" cy="269.20" r="1.85" fill="#e07890"/>
<text x="223.10" y="271.70" font-size="9.0" fill="#111" stroke="#111" stroke-width="0.12"><tspan font-style="italic">L</tspan></text>
<line x1="230.50" y1="268.50" x2="236.60" y2="268.50" stroke="#222" stroke-width="0.75" stroke-linecap="butt"/>
<line x1="230.50" y1="270.60" x2="236.60" y2="270.60" stroke="#222" stroke-width="0.75" stroke-linecap="butt"/>
<text x="238.20" y="271.70" font-size="9.0" textLength="8.3" lengthAdjust="spacingAndGlyphs" fill="#111" stroke="#111" stroke-width="0.12">32</text>
<circle cx="212.40" cy="281.30" r="1.85" fill="#c050c0"/>
<text x="223.10" y="283.80" font-size="9.0" fill="#111" stroke="#111" stroke-width="0.12"><tspan font-style="italic">L</tspan></text>
<line x1="230.50" y1="280.50" x2="236.60" y2="280.50" stroke="#222" stroke-width="0.75" stroke-linecap="butt"/>
<line x1="230.50" y1="282.60" x2="236.60" y2="282.60" stroke="#222" stroke-width="0.75" stroke-linecap="butt"/>
<text x="238.20" y="283.80" font-size="9.0" textLength="8.3" lengthAdjust="spacingAndGlyphs" fill="#111" stroke="#111" stroke-width="0.12">40</text>
<circle cx="212.40" cy="293.00" r="1.85" fill="#8a40d0"/>
<text x="223.10" y="295.50" font-size="9.0" fill="#111" stroke="#111" stroke-width="0.12"><tspan font-style="italic">L</tspan></text>
<line x1="230.50" y1="292.50" x2="236.60" y2="292.50" stroke="#222" stroke-width="0.75" stroke-linecap="butt"/>
<line x1="230.50" y1="294.60" x2="236.60" y2="294.60" stroke="#222" stroke-width="0.75" stroke-linecap="butt"/>
<text x="238.20" y="295.50" font-size="9.0" textLength="8.3" lengthAdjust="spacingAndGlyphs" fill="#111" stroke="#111" stroke-width="0.12">48</text>
<circle cx="212.40" cy="304.90" r="1.85" fill="#3a2aa0"/>
<text x="223.10" y="307.40" font-size="9.0" fill="#111" stroke="#111" stroke-width="0.12"><tspan font-style="italic">L</tspan></text>
<line x1="230.50" y1="303.50" x2="236.60" y2="303.50" stroke="#222" stroke-width="0.75" stroke-linecap="butt"/>
<line x1="230.50" y1="305.60" x2="236.60" y2="305.60" stroke="#222" stroke-width="0.75" stroke-linecap="butt"/>
<text x="238.20" y="307.40" font-size="9.0" textLength="8.3" lengthAdjust="spacingAndGlyphs" fill="#111" stroke="#111" stroke-width="0.12">52</text>
<rect x="267.30" y="291.30" width="64.30" height="29.40" rx="1.5" fill="rgba(255,255,255,0.8)" stroke="#d8d8d8" stroke-width="0.8"/>
<line x1="269.90" y1="298.70" x2="277.60" y2="298.70" stroke="#ff4a4a" stroke-width="1.2" stroke-linecap="butt"/>
<line x1="269.90" y1="312.70" x2="277.60" y2="312.70" stroke="#ff1a1a" stroke-width="1.2" stroke-linecap="butt" stroke-dasharray="2.7,1.5"/>
<text x="284.00" y="301.70" font-size="9.0" fill="#111" stroke="#111" stroke-width="0.12"><tspan font-style="italic">μ</tspan></text>
<text x="287.50" y="303.20" font-size="6.3" textLength="9.6" lengthAdjust="spacingAndGlyphs" fill="#111" stroke="#111" stroke-width="0.12">opt</text>
<text x="299.60" y="302.20" font-size="9.0" textLength="6.5" lengthAdjust="spacingAndGlyphs" fill="#111" stroke="#111" stroke-width="0.12">≈</text>
<text x="307.60" y="301.70" font-size="9.0" textLength="19.6" lengthAdjust="spacingAndGlyphs" fill="#111" stroke="#111" stroke-width="0.12">0.356</text>
<text x="284.00" y="315.60" font-size="9.0" fill="#111" stroke="#111" stroke-width="0.12"><tspan font-style="italic">μ</tspan></text>
<line x1="290.50" y1="312.50" x2="296.50" y2="312.50" stroke="#222" stroke-width="0.75" stroke-linecap="butt"/>
<line x1="290.50" y1="314.60" x2="296.50" y2="314.60" stroke="#222" stroke-width="0.75" stroke-linecap="butt"/>
<text x="298.80" y="315.60" font-size="9.0" textLength="16.5" lengthAdjust="spacingAndGlyphs" fill="#111" stroke="#111" stroke-width="0.12">5/14</text>
<rect x="273.60" y="326.40" width="59.70" height="58.60" rx="0" fill="#fff" stroke="#1a1a1a" stroke-width="1.0"/>
<line x1="311.30" y1="326.40" x2="311.30" y2="385.00" stroke="#ee1414" stroke-width="1.2" stroke-linecap="butt" stroke-dasharray="3.2,1.3"/>
<clipPath id="clf"><rect x="273.6" y="326.4" width="59.7" height="58.6"/></clipPath><g clip-path="url(#clf)">
<path d="M276.40,343.60 C277.50,344.25 280.73,346.02 283.00,347.50 C285.27,348.98 287.67,350.50 290.00,352.50 C292.33,354.50 294.83,357.00 297.00,359.50 C299.17,362.00 301.17,364.75 303.00,367.50 C304.83,370.25 306.62,373.22 308.00,376.00 C309.38,378.78 310.75,382.83 311.30,384.20" fill="none" stroke="#2a2af0" stroke-width="1.2" stroke-linejoin="round"/>
<path d="M311.30,384.20 C311.92,382.00 313.72,375.78 315.00,371.00 C316.28,366.22 317.67,361.00 319.00,355.50 C320.33,350.00 321.75,343.42 323.00,338.00 C324.25,332.58 325.92,325.50 326.50,323.00" fill="none" stroke="#2a2af0" stroke-width="1.2" stroke-linejoin="round"/>
</g>
<line x1="273.60" y1="335.00" x2="275.60" y2="335.00" stroke="#1a1a1a" stroke-width="0.9" stroke-linecap="butt"/>
<text x="271.80" y="339.00" font-size="11.2" text-anchor="end" fill="#111" stroke="#111" stroke-width="0.12">0.06</text>
<line x1="273.60" y1="384.40" x2="275.60" y2="384.40" stroke="#1a1a1a" stroke-width="0.9" stroke-linecap="butt"/>
<text x="271.80" y="388.40" font-size="11.2" text-anchor="end" fill="#111" stroke="#111" stroke-width="0.12">0.00</text>
<line x1="280.40" y1="385.00" x2="280.40" y2="383.00" stroke="#1a1a1a" stroke-width="0.9" stroke-linecap="butt"/>
<text x="280.40" y="394.60" font-size="11.2" text-anchor="middle" fill="#111" stroke="#111" stroke-width="0.12">0.2</text>
<line x1="320.40" y1="385.00" x2="320.40" y2="383.00" stroke="#1a1a1a" stroke-width="0.9" stroke-linecap="butt"/>
<text x="320.40" y="394.60" font-size="11.2" text-anchor="middle" fill="#111" stroke="#111" stroke-width="0.12">0.4</text>
<path d="M257.58,357.80 C256.50,353.90 258.27,351.30 260.91,351.30 C263.75,351.30 265.32,354.20 265.13,358.60 M257.29,357.30 L265.13,358.50 M257.78,357.90 C257.38,359.10 257.87,360.10 258.85,360.40" fill="none" stroke="#1a1a1a" stroke-width="1.05" stroke-linecap="round" stroke-linejoin="round"/>
<text x="302.50" y="403.50" font-size="12.2" text-anchor="middle" fill="#111" stroke="#111" stroke-width="0.06"><tspan font-style="italic">μ</tspan></text>
<rect x="201.30" y="233.90" width="132.00" height="175.30" rx="0" fill="none" stroke="#1a1a1a" stroke-width="1.0"/>
<line x1="201.30" y1="259.40" x2="203.30" y2="259.40" stroke="#1a1a1a" stroke-width="0.9" stroke-linecap="butt"/>
<text x="199.50" y="263.40" font-size="11.2" text-anchor="end" fill="#111" stroke="#111" stroke-width="0.12">0.61</text>
<line x1="201.30" y1="306.30" x2="203.30" y2="306.30" stroke="#1a1a1a" stroke-width="0.9" stroke-linecap="butt"/>
<text x="199.50" y="310.30" font-size="11.2" text-anchor="end" fill="#111" stroke="#111" stroke-width="0.12">0.59</text>
<line x1="201.30" y1="353.30" x2="203.30" y2="353.30" stroke="#1a1a1a" stroke-width="0.9" stroke-linecap="butt"/>
<text x="199.50" y="357.30" font-size="11.2" text-anchor="end" fill="#111" stroke="#111" stroke-width="0.12">0.57</text>
<line x1="201.30" y1="400.20" x2="203.30" y2="400.20" stroke="#1a1a1a" stroke-width="0.9" stroke-linecap="butt"/>
<text x="199.50" y="404.20" font-size="11.2" text-anchor="end" fill="#111" stroke="#111" stroke-width="0.12">0.55</text>
<line x1="227.60" y1="409.20" x2="227.60" y2="407.20" stroke="#1a1a1a" stroke-width="0.9" stroke-linecap="butt"/>
<text x="227.60" y="418.80" font-size="11.2" text-anchor="middle" fill="#111" stroke="#111" stroke-width="0.12">0.08</text>
<line x1="260.50" y1="409.20" x2="260.50" y2="407.20" stroke="#1a1a1a" stroke-width="0.9" stroke-linecap="butt"/>
<text x="260.50" y="418.80" font-size="11.2" text-anchor="middle" fill="#111" stroke="#111" stroke-width="0.12">0.09</text>
<line x1="293.40" y1="409.20" x2="293.40" y2="407.20" stroke="#1a1a1a" stroke-width="0.9" stroke-linecap="butt"/>
<text x="293.40" y="418.80" font-size="11.2" text-anchor="middle" fill="#111" stroke="#111" stroke-width="0.12">0.10</text>
<line x1="326.20" y1="409.20" x2="326.20" y2="407.20" stroke="#1a1a1a" stroke-width="0.9" stroke-linecap="butt"/>
<text x="326.20" y="418.80" font-size="11.2" text-anchor="middle" fill="#111" stroke="#111" stroke-width="0.12">0.11</text>
<text x="266.50" y="432.80" font-size="12.2" text-anchor="middle" textLength="40.7" lengthAdjust="spacingAndGlyphs" fill="#111" stroke="#111" stroke-width="0.06">(<tspan font-style="italic">s</tspan><tspan dy="-4.39" dx="0.6" font-size="8.54" font-style="italic">μ</tspan><tspan dy="4.39" dx="1.2" font-style="italic">L</tspan>)<tspan dy="-4.39" dx="0.8" font-size="8.54">−1</tspan></text>
<text x="179.20" y="321.80" font-size="12.2" text-anchor="middle" transform="rotate(-90 179.20 321.80)" fill="#111" stroke="#111" stroke-width="0.06"><tspan font-style="italic">U</tspan><tspan dy="2.6" font-size="9.0">peak</tspan></text>
<text x="346.80" y="233.50" font-size="13.5" font-weight="bold" fill="#111" stroke="#111" stroke-width="0.06">g</text>
<path d="M383.50,406.00 C385.42,402.33 390.58,392.00 395.00,384.00 C399.42,376.00 405.00,366.50 410.00,358.00 C415.00,349.50 420.00,341.17 425.00,333.00 C430.00,324.83 435.00,316.83 440.00,309.00 C445.00,301.17 450.00,293.50 455.00,286.00 C460.00,278.50 464.83,270.58 470.00,264.00 C475.17,257.42 483.33,249.42 486.00,246.50" fill="none" stroke="#bdbdbd" stroke-width="2.2" stroke-linejoin="round" stroke-dasharray="5,3"/>
<circle cx="385.30" cy="402.00" r="1.85" fill="#f7cf45"/>
<circle cx="386.60" cy="398.20" r="1.85" fill="#ee9a78"/>
<circle cx="387.90" cy="395.20" r="1.85" fill="#d56aa6"/>
<circle cx="389.60" cy="392.70" r="1.85" fill="#9a42cc"/>
<circle cx="397.90" cy="378.10" r="1.85" fill="#f7cf45"/>
<circle cx="401.20" cy="373.00" r="1.85" fill="#ee9a78"/>
<circle cx="404.20" cy="366.50" r="1.85" fill="#d56aa6"/>
<circle cx="406.70" cy="362.50" r="1.85" fill="#9a42cc"/>
<circle cx="411.30" cy="355.40" r="1.85" fill="#f7cf45"/>
<circle cx="415.60" cy="347.40" r="1.85" fill="#ee9a78"/>
<circle cx="420.10" cy="339.80" r="1.85" fill="#d56aa6"/>
<circle cx="424.40" cy="333.20" r="1.85" fill="#ee9a78"/>
<circle cx="430.40" cy="322.70" r="1.85" fill="#ee9a78"/>
<circle cx="436.90" cy="313.10" r="1.85" fill="#f7cf45"/>
<circle cx="441.30" cy="306.10" r="1.85" fill="#9a42cc"/>
<circle cx="445.40" cy="299.60" r="1.85" fill="#ee9a78"/>
<circle cx="447.70" cy="298.60" r="1.85" fill="#4242a6"/>
<circle cx="450.70" cy="292.50" r="1.85" fill="#f7cf45"/>
<circle cx="452.60" cy="289.70" r="1.85" fill="#d56aa6"/>
<circle cx="459.50" cy="278.30" r="1.85" fill="#ee9a78"/>
<circle cx="459.10" cy="280.90" r="1.85" fill="#9a42cc"/>
<circle cx="466.40" cy="271.00" r="1.85" fill="#4242a6"/>
<circle cx="468.40" cy="267.50" r="1.85" fill="#d56aa6"/>
<circle cx="476.90" cy="256.00" r="1.85" fill="#9a42cc"/>
<circle cx="485.50" cy="247.40" r="1.85" fill="#4242a6"/>
<rect x="379.10" y="238.00" width="44.70" height="61.60" rx="1.5" fill="rgba(255,255,255,0.8)" stroke="#d8d8d8" stroke-width="0.8"/>
<circle cx="385.90" cy="245.90" r="1.85" fill="#f7cf45"/>
<text x="397.00" y="248.40" font-size="9.0" fill="#111" stroke="#111" stroke-width="0.12"><tspan font-style="italic">L</tspan></text>
<line x1="404.40" y1="244.50" x2="410.50" y2="244.50" stroke="#222" stroke-width="0.75" stroke-linecap="butt"/>
<line x1="404.40" y1="246.60" x2="410.50" y2="246.60" stroke="#222" stroke-width="0.75" stroke-linecap="butt"/>
<text x="412.10" y="248.40" font-size="9.0" textLength="8.3" lengthAdjust="spacingAndGlyphs" fill="#111" stroke="#111" stroke-width="0.12">28</text>
<circle cx="385.90" cy="257.40" r="1.85" fill="#ee9a78"/>
<text x="397.00" y="259.90" font-size="9.0" fill="#111" stroke="#111" stroke-width="0.12"><tspan font-style="italic">L</tspan></text>
<line x1="404.40" y1="256.50" x2="410.50" y2="256.50" stroke="#222" stroke-width="0.75" stroke-linecap="butt"/>
<line x1="404.40" y1="258.60" x2="410.50" y2="258.60" stroke="#222" stroke-width="0.75" stroke-linecap="butt"/>
<text x="412.10" y="259.90" font-size="9.0" textLength="8.3" lengthAdjust="spacingAndGlyphs" fill="#111" stroke="#111" stroke-width="0.12">32</text>
<circle cx="385.90" cy="269.20" r="1.85" fill="#d56aa6"/>
<text x="397.00" y="271.70" font-size="9.0" fill="#111" stroke="#111" stroke-width="0.12"><tspan font-style="italic">L</tspan></text>
<line x1="404.40" y1="268.50" x2="410.50" y2="268.50" stroke="#222" stroke-width="0.75" stroke-linecap="butt"/>
<line x1="404.40" y1="270.60" x2="410.50" y2="270.60" stroke="#222" stroke-width="0.75" stroke-linecap="butt"/>
<text x="412.10" y="271.70" font-size="9.0" textLength="8.3" lengthAdjust="spacingAndGlyphs" fill="#111" stroke="#111" stroke-width="0.12">36</text>
<circle cx="385.90" cy="281.30" r="1.85" fill="#9a42cc"/>
<text x="397.00" y="283.80" font-size="9.0" fill="#111" stroke="#111" stroke-width="0.12"><tspan font-style="italic">L</tspan></text>
<line x1="404.40" y1="280.50" x2="410.50" y2="280.50" stroke="#222" stroke-width="0.75" stroke-linecap="butt"/>
<line x1="404.40" y1="282.60" x2="410.50" y2="282.60" stroke="#222" stroke-width="0.75" stroke-linecap="butt"/>
<text x="412.10" y="283.80" font-size="9.0" textLength="8.3" lengthAdjust="spacingAndGlyphs" fill="#111" stroke="#111" stroke-width="0.12">40</text>
<circle cx="385.90" cy="293.00" r="1.85" fill="#4242a6"/>
<text x="397.00" y="295.50" font-size="9.0" fill="#111" stroke="#111" stroke-width="0.12"><tspan font-style="italic">L</tspan></text>
<line x1="404.40" y1="292.50" x2="410.50" y2="292.50" stroke="#222" stroke-width="0.75" stroke-linecap="butt"/>
<line x1="404.40" y1="294.60" x2="410.50" y2="294.60" stroke="#222" stroke-width="0.75" stroke-linecap="butt"/>
<text x="412.10" y="295.50" font-size="9.0" textLength="8.3" lengthAdjust="spacingAndGlyphs" fill="#111" stroke="#111" stroke-width="0.12">44</text>
<rect x="375.70" y="301.70" width="57.50" height="11.50" rx="0" fill="#fff" stroke="#8a8a8a" stroke-width="0.9"/>
<text x="377.80" y="309.80" font-size="9.2" fill="#111" stroke="#111" stroke-width="0.12">fix</text>
<text x="390.40" y="309.80" font-size="9.2" fill="#111" stroke="#111" stroke-width="0.12"><tspan font-style="italic">s</tspan></text>
<text x="393.80" y="306.70" font-size="6.4" fill="#111" stroke="#111" stroke-width="0.12"><tspan font-style="italic">ν</tspan></text>
<text x="399.00" y="309.80" font-size="9.2" fill="#111" stroke="#111" stroke-width="0.12"><tspan font-style="italic">L</tspan></text>
<line x1="406.80" y1="306.50" x2="412.80" y2="306.50" stroke="#222" stroke-width="0.75" stroke-linecap="butt"/>
<line x1="406.80" y1="308.60" x2="412.80" y2="308.60" stroke="#222" stroke-width="0.75" stroke-linecap="butt"/>
<text x="415.50" y="309.80" font-size="9.2" textLength="15.1" lengthAdjust="spacingAndGlyphs" fill="#111" stroke="#111" stroke-width="0.12">12.5</text>
<rect x="454.60" y="284.80" width="49.80" height="27.50" rx="1.5" fill="rgba(255,255,255,0.8)" stroke="#d8d8d8" stroke-width="0.8"/>
<ellipse cx="461.00" cy="291.60" rx="4.70" ry="1.55" transform="rotate(-26 461.00 291.60)" fill="none" stroke="#ff2020" stroke-width="1.0"/>
<text x="471.60" y="294.80" font-size="9.0" fill="#111" stroke="#111" stroke-width="0.12">optimal</text>
<line x1="457.40" y1="303.90" x2="465.40" y2="303.90" stroke="#ff2020" stroke-width="1.1" stroke-linecap="butt" stroke-dasharray="2.6,1.6"/>
<text x="471.40" y="306.80" font-size="9.0" fill="#111" stroke="#111" stroke-width="0.12"><tspan font-style="italic">ν</tspan></text>
<text x="475.30" y="307.40" font-size="11.25" fill="#111" stroke="#111" stroke-width="0.12">′</text>
<line x1="481.00" y1="303.50" x2="487.20" y2="303.50" stroke="#222" stroke-width="0.75" stroke-linecap="butt"/>
<line x1="481.00" y1="305.60" x2="487.20" y2="305.60" stroke="#222" stroke-width="0.75" stroke-linecap="butt"/>
<text x="489.70" y="306.80" font-size="9.0" textLength="10.8" lengthAdjust="spacingAndGlyphs" fill="#111" stroke="#111" stroke-width="0.12">5/4</text>
<rect x="451" y="323.7" width="41.2" height="3.0" fill="url(#cbg)"/>
<text x="437.00" y="322.20" font-size="6.9" textLength="28" lengthAdjust="spacingAndGlyphs" fill="#ff3a3a" stroke="#ff3a3a" stroke-width="0.12">4.5<tspan dx="0.5">×</tspan><tspan dx="0.5">10</tspan><tspan dy="-2.8" font-size="5.0">−4</tspan></text>
<text x="478.30" y="322.20" font-size="6.9" textLength="26.6" lengthAdjust="spacingAndGlyphs" fill="#8a40d0" stroke="#8a40d0" stroke-width="0.12">7.5<tspan dx="0.5">×</tspan><tspan dx="0.5">10</tspan><tspan dy="-2.8" font-size="5.0">−3</tspan></text>
<rect x="447.40" y="332.50" width="58.90" height="52.80" rx="0" fill="#fff" stroke="#1a1a1a" stroke-width="1.0"/>
<clipPath id="clg"><rect x="447.4" y="332.5" width="58.900000000000034" height="52.80000000000001"/></clipPath>
<g clip-path="url(#clg)">
<path d="M488.30,331.50 C485.58,334.67 476.38,345.28 472.00,350.50 C467.62,355.72 464.42,359.63 462.00,362.80 C459.58,365.97 458.77,367.47 457.50,369.50 C456.23,371.53 455.05,373.52 454.40,375.00 C453.75,376.48 453.42,377.27 453.60,378.40 C453.78,379.53 454.63,380.90 455.50,381.80 C456.37,382.70 457.05,383.32 458.80,383.80 C460.55,384.28 462.47,384.50 466.00,384.70 C469.53,384.90 473.17,384.95 480.00,385.00 C486.83,385.05 502.50,385.00 507.00,385.00" fill="none" stroke="#7a2ed4" stroke-width="1.3" stroke-linejoin="round"/>
<path d="M496.00,331.50 C493.33,334.33 484.67,343.58 480.00,348.50 C475.33,353.42 471.25,357.55 468.00,361.00 C464.75,364.45 462.45,366.95 460.50,369.20 C458.55,371.45 457.18,373.10 456.30,374.50 C455.42,375.90 455.08,376.65 455.20,377.60 C455.32,378.55 455.97,379.58 457.00,380.20 C458.03,380.82 458.40,381.30 461.40,381.30 C464.40,381.30 470.23,380.85 475.00,380.20 C479.77,379.55 484.67,378.38 490.00,377.40 C495.33,376.42 504.17,374.82 507.00,374.30" fill="none" stroke="#9a2ca8" stroke-width="1.3" stroke-linejoin="round"/>
<path d="M507.50,334.20 C504.92,336.17 496.92,342.20 492.00,346.00 C487.08,349.80 482.33,353.58 478.00,357.00 C473.67,360.42 469.00,363.95 466.00,366.50 C463.00,369.05 461.33,370.75 460.00,372.30 C458.67,373.85 458.00,374.82 458.00,375.80 C458.00,376.78 458.67,377.78 460.00,378.20 C461.33,378.62 462.67,378.97 466.00,378.30 C469.33,377.63 475.33,375.88 480.00,374.20 C484.67,372.52 489.42,370.15 494.00,368.20 C498.58,366.25 505.25,363.45 507.50,362.50" fill="none" stroke="#c8205e" stroke-width="1.3" stroke-linejoin="round"/>
<ellipse cx="481.90" cy="362.80" rx="26.60" ry="4.50" transform="rotate(-27.8 481.90 362.80)" fill="none" stroke="#e41c34" stroke-width="1.2"/>
<ellipse cx="471.50" cy="368.80" rx="8.80" ry="2.50" transform="rotate(-25 471.50 368.80)" fill="none" stroke="#ec1828" stroke-width="1.2"/>
<ellipse cx="470.00" cy="369.60" rx="3.80" ry="1.60" transform="rotate(-25 470.00 369.60)" fill="none" stroke="#f41420" stroke-width="1.2"/>
</g>
<line x1="447.40" y1="371.80" x2="506.30" y2="371.80" stroke="#333" stroke-width="1.0" stroke-linecap="butt" stroke-dasharray="3,2"/>
<line x1="468.40" y1="332.50" x2="468.40" y2="385.30" stroke="#ff4c4c" stroke-width="1.5" stroke-linecap="butt" stroke-dasharray="3.2,1.1"/>
<rect x="447.40" y="332.50" width="58.90" height="52.80" rx="0" fill="none" stroke="#1a1a1a" stroke-width="1.0"/>
<line x1="447.40" y1="333.50" x2="449.40" y2="333.50" stroke="#1a1a1a" stroke-width="0.9" stroke-linecap="butt"/>
<text x="445.60" y="337.50" font-size="11.2" text-anchor="end" fill="#111" stroke="#111" stroke-width="0.12">0.1</text>
<line x1="447.40" y1="371.70" x2="449.40" y2="371.70" stroke="#1a1a1a" stroke-width="0.9" stroke-linecap="butt"/>
<text x="445.60" y="375.70" font-size="11.2" text-anchor="end" fill="#111" stroke="#111" stroke-width="0.12">0.0</text>
<line x1="447.30" y1="385.30" x2="447.30" y2="383.30" stroke="#1a1a1a" stroke-width="0.9" stroke-linecap="butt"/>
<text x="447.30" y="394.70" font-size="11.2" text-anchor="middle" fill="#111" stroke="#111" stroke-width="0.12">0</text>
<line x1="464.20" y1="385.30" x2="464.20" y2="383.30" stroke="#1a1a1a" stroke-width="0.9" stroke-linecap="butt"/>
<text x="464.20" y="394.70" font-size="11.2" text-anchor="middle" fill="#111" stroke="#111" stroke-width="0.12">1</text>
<line x1="481.00" y1="385.30" x2="481.00" y2="383.30" stroke="#1a1a1a" stroke-width="0.9" stroke-linecap="butt"/>
<text x="481.00" y="394.70" font-size="11.2" text-anchor="middle" fill="#111" stroke="#111" stroke-width="0.12">2</text>
<line x1="497.90" y1="385.30" x2="497.90" y2="383.30" stroke="#1a1a1a" stroke-width="0.9" stroke-linecap="butt"/>
<text x="497.90" y="394.70" font-size="11.2" text-anchor="middle" fill="#111" stroke="#111" stroke-width="0.12">3</text>
<text x="476.40" y="403.90" font-size="12.2" text-anchor="middle" fill="#111" stroke="#111" stroke-width="0.06"><tspan font-style="italic">ν</tspan><tspan font-size="15" dx="0.3">′</tspan></text>
<text x="427.60" y="360.30" font-size="12.2" text-anchor="middle" textLength="28.3" lengthAdjust="spacingAndGlyphs" transform="rotate(-90 427.60 360.30)" fill="#111" stroke="#111" stroke-width="0.06"><tspan font-style="italic">δ</tspan>Ω<tspan dy="2.4" font-size="8.54">TCI</tspan></text>
<rect x="374.60" y="234.10" width="131.70" height="175.10" rx="0" fill="none" stroke="#1a1a1a" stroke-width="1.0"/>
<line x1="374.60" y1="239.80" x2="376.60" y2="239.80" stroke="#1a1a1a" stroke-width="0.9" stroke-linecap="butt"/>
<text x="372.80" y="243.80" font-size="11.2" text-anchor="end" fill="#111" stroke="#111" stroke-width="0.12">0.60</text>
<line x1="374.60" y1="298.00" x2="376.60" y2="298.00" stroke="#1a1a1a" stroke-width="0.9" stroke-linecap="butt"/>
<text x="372.80" y="302.00" font-size="11.2" text-anchor="end" fill="#111" stroke="#111" stroke-width="0.12">0.59</text>
<line x1="374.60" y1="356.20" x2="376.60" y2="356.20" stroke="#1a1a1a" stroke-width="0.9" stroke-linecap="butt"/>
<text x="372.80" y="360.20" font-size="11.2" text-anchor="end" fill="#111" stroke="#111" stroke-width="0.12">0.58</text>
<line x1="417.70" y1="409.20" x2="417.70" y2="407.20" stroke="#1a1a1a" stroke-width="0.9" stroke-linecap="butt"/>
<text x="417.70" y="418.80" font-size="11.2" text-anchor="middle" fill="#111" stroke="#111" stroke-width="0.12">0.5</text>
<line x1="463.60" y1="409.20" x2="463.60" y2="407.20" stroke="#1a1a1a" stroke-width="0.9" stroke-linecap="butt"/>
<text x="463.60" y="418.80" font-size="11.2" text-anchor="middle" fill="#111" stroke="#111" stroke-width="0.12">1.0</text>
<text x="440.80" y="431.80" font-size="12.2" text-anchor="middle" textLength="32.2" lengthAdjust="spacingAndGlyphs" fill="#111" stroke="#111" stroke-width="0.06"><tspan font-style="italic">h</tspan><tspan font-style="italic">L</tspan><tspan dy="-4.39" dx="1.5" font-size="8.54">1/</tspan><tspan font-size="8.54" font-style="italic">ν</tspan><tspan font-size="8.54">′</tspan></text>
<text x="352.00" y="321.60" font-size="12.2" text-anchor="middle" transform="rotate(-90 352.00 321.60)" fill="#111" stroke="#111" stroke-width="0.06"><tspan font-style="italic">U</tspan><tspan dy="2.6" font-size="9.0">peak</tspan></text>
<text x="522.30" y="233.50" font-size="13.5" font-weight="bold" fill="#111" stroke="#111" stroke-width="0.06">h</text>
<path d="M562.00,404.00 C562.67,401.00 564.50,392.00 566.00,386.00 C567.50,380.00 569.17,374.00 571.00,368.00 C572.83,362.00 574.83,356.00 577.00,350.00 C579.17,344.00 581.50,337.83 584.00,332.00 C586.50,326.17 589.17,320.50 592.00,315.00 C594.83,309.50 597.67,304.17 601.00,299.00 C604.33,293.83 608.00,288.83 612.00,284.00 C616.00,279.17 620.33,274.33 625.00,270.00 C629.67,265.67 634.83,261.50 640.00,258.00 C645.17,254.50 649.83,251.83 656.00,249.00 C662.17,246.17 673.50,242.33 677.00,241.00" fill="none" stroke="#bdbdbd" stroke-width="2.2" stroke-linejoin="round" stroke-dasharray="5,3"/>
<circle cx="562.90" cy="401.30" r="1.85" fill="#4242a6"/>
<circle cx="564.60" cy="391.90" r="1.85" fill="#9a42cc"/>
<circle cx="565.40" cy="390.20" r="1.85" fill="#4242a6"/>
<circle cx="567.10" cy="381.10" r="1.85" fill="#9a42cc"/>
<circle cx="567.90" cy="376.80" r="1.85" fill="#4242a6"/>
<circle cx="571.20" cy="369.30" r="1.85" fill="#d56aa6"/>
<circle cx="571.20" cy="367.50" r="1.85" fill="#9a42cc"/>
<circle cx="572.20" cy="363.00" r="1.85" fill="#4242a6"/>
<circle cx="574.20" cy="360.50" r="1.85" fill="#d56aa6"/>
<circle cx="574.90" cy="354.20" r="1.85" fill="#9a42cc"/>
<circle cx="577.20" cy="348.40" r="1.85" fill="#4242a6"/>
<circle cx="578.70" cy="346.60" r="1.85" fill="#d56aa6"/>
<circle cx="580.50" cy="342.30" r="1.85" fill="#ee9a78"/>
<circle cx="580.50" cy="339.80" r="1.85" fill="#9a42cc"/>
<circle cx="583.00" cy="333.50" r="1.85" fill="#ee9a78"/>
<circle cx="584.80" cy="330.20" r="1.85" fill="#4242a6"/>
<circle cx="588.80" cy="322.20" r="1.85" fill="#9a42cc"/>
<circle cx="589.80" cy="319.60" r="1.85" fill="#ee9a78"/>
<circle cx="595.60" cy="308.80" r="1.85" fill="#4242a6"/>
<circle cx="597.60" cy="305.20" r="1.85" fill="#f7cf45"/>
<circle cx="600.20" cy="301.40" r="1.85" fill="#9a42cc"/>
<circle cx="602.80" cy="298.20" r="1.85" fill="#9a42cc"/>
<circle cx="603.30" cy="295.60" r="1.85" fill="#f7cf45"/>
<circle cx="604.50" cy="293.50" r="1.85" fill="#ee9a78"/>
<circle cx="609.80" cy="285.20" r="1.85" fill="#f7cf45"/>
<circle cx="617.20" cy="278.80" r="1.85" fill="#d56aa6"/>
<circle cx="617.60" cy="274.80" r="1.85" fill="#f7cf45"/>
<circle cx="628.90" cy="263.90" r="1.85" fill="#f7cf45"/>
<circle cx="639.30" cy="259.20" r="1.85" fill="#ee9a78"/>
<circle cx="645.70" cy="252.20" r="1.85" fill="#f7cf45"/>
<circle cx="674.50" cy="242.30" r="1.85" fill="#f7cf45"/>
<rect x="552.50" y="238.00" width="45.30" height="61.60" rx="1.5" fill="rgba(255,255,255,0.8)" stroke="#d8d8d8" stroke-width="0.8"/>
<circle cx="559.90" cy="245.20" r="1.85" fill="#f7cf45"/>
<text x="570.70" y="247.70" font-size="9.0" fill="#111" stroke="#111" stroke-width="0.12"><tspan font-style="italic">L</tspan></text>
<line x1="578.10" y1="244.50" x2="584.20" y2="244.50" stroke="#222" stroke-width="0.75" stroke-linecap="butt"/>
<line x1="578.10" y1="246.60" x2="584.20" y2="246.60" stroke="#222" stroke-width="0.75" stroke-linecap="butt"/>
<text x="585.80" y="247.70" font-size="9.0" textLength="8.3" lengthAdjust="spacingAndGlyphs" fill="#111" stroke="#111" stroke-width="0.12">24</text>
<circle cx="559.90" cy="257.20" r="1.85" fill="#ee9a78"/>
<text x="570.70" y="259.70" font-size="9.0" fill="#111" stroke="#111" stroke-width="0.12"><tspan font-style="italic">L</tspan></text>
<line x1="578.10" y1="256.50" x2="584.20" y2="256.50" stroke="#222" stroke-width="0.75" stroke-linecap="butt"/>
<line x1="578.10" y1="258.60" x2="584.20" y2="258.60" stroke="#222" stroke-width="0.75" stroke-linecap="butt"/>
<text x="585.80" y="259.70" font-size="9.0" textLength="8.3" lengthAdjust="spacingAndGlyphs" fill="#111" stroke="#111" stroke-width="0.12">32</text>
<circle cx="559.90" cy="268.90" r="1.85" fill="#d56aa6"/>
<text x="570.70" y="271.40" font-size="9.0" fill="#111" stroke="#111" stroke-width="0.12"><tspan font-style="italic">L</tspan></text>
<line x1="578.10" y1="267.50" x2="584.20" y2="267.50" stroke="#222" stroke-width="0.75" stroke-linecap="butt"/>
<line x1="578.10" y1="269.60" x2="584.20" y2="269.60" stroke="#222" stroke-width="0.75" stroke-linecap="butt"/>
<text x="585.80" y="271.40" font-size="9.0" textLength="8.3" lengthAdjust="spacingAndGlyphs" fill="#111" stroke="#111" stroke-width="0.12">40</text>
<circle cx="559.90" cy="281.20" r="1.85" fill="#9a42cc"/>
<text x="570.70" y="283.70" font-size="9.0" fill="#111" stroke="#111" stroke-width="0.12"><tspan font-style="italic">L</tspan></text>
<line x1="578.10" y1="280.50" x2="584.20" y2="280.50" stroke="#222" stroke-width="0.75" stroke-linecap="butt"/>
<line x1="578.10" y1="282.60" x2="584.20" y2="282.60" stroke="#222" stroke-width="0.75" stroke-linecap="butt"/>
<text x="585.80" y="283.70" font-size="9.0" textLength="8.3" lengthAdjust="spacingAndGlyphs" fill="#111" stroke="#111" stroke-width="0.12">48</text>
<circle cx="559.90" cy="293.20" r="1.85" fill="#4242a6"/>
<text x="570.70" y="295.70" font-size="9.0" fill="#111" stroke="#111" stroke-width="0.12"><tspan font-style="italic">L</tspan></text>
<line x1="578.10" y1="292.50" x2="584.20" y2="292.50" stroke="#222" stroke-width="0.75" stroke-linecap="butt"/>
<line x1="578.10" y1="294.60" x2="584.20" y2="294.60" stroke="#222" stroke-width="0.75" stroke-linecap="butt"/>
<text x="585.80" y="295.70" font-size="9.0" textLength="8.3" lengthAdjust="spacingAndGlyphs" fill="#111" stroke="#111" stroke-width="0.12">52</text>
<rect x="614.90" y="290.10" width="62.80" height="31.20" rx="1.5" fill="rgba(255,255,255,0.8)" stroke="#d8d8d8" stroke-width="0.8"/>
<line x1="617.70" y1="297.90" x2="625.40" y2="297.90" stroke="#ff8080" stroke-width="1.2" stroke-linecap="butt"/>
<line x1="617.70" y1="313.00" x2="625.40" y2="313.00" stroke="#ff1a1a" stroke-width="1.2" stroke-linecap="butt" stroke-dasharray="2.7,1.5"/>
<text x="631.50" y="300.30" font-size="9.0" fill="#111" stroke="#111" stroke-width="0.12"><tspan font-style="italic">μ</tspan></text>
<text x="636.10" y="300.10" font-size="10.35" fill="#111" stroke="#111" stroke-width="0.12">′</text>
<text x="636.30" y="302.70" font-size="6.3" textLength="9.4" lengthAdjust="spacingAndGlyphs" fill="#111" stroke="#111" stroke-width="0.12">opt</text>
<text x="647.50" y="300.80" font-size="9.0" textLength="7.0" lengthAdjust="spacingAndGlyphs" fill="#111" stroke="#111" stroke-width="0.12">≈</text>
<text x="655.60" y="300.30" font-size="9.0" textLength="18.2" lengthAdjust="spacingAndGlyphs" fill="#111" stroke="#111" stroke-width="0.12">0.559</text>
<text x="631.50" y="315.20" font-size="9.0" fill="#111" stroke="#111" stroke-width="0.12"><tspan font-style="italic">μ</tspan></text>
<text x="636.10" y="315.00" font-size="10.35" fill="#111" stroke="#111" stroke-width="0.12">′</text>
<line x1="641.30" y1="311.50" x2="647.20" y2="311.50" stroke="#222" stroke-width="0.75" stroke-linecap="butt"/>
<line x1="641.30" y1="313.60" x2="647.20" y2="313.60" stroke="#222" stroke-width="0.75" stroke-linecap="butt"/>
<text x="649.00" y="315.20" font-size="9.0" textLength="12.8" lengthAdjust="spacingAndGlyphs" fill="#111" stroke="#111" stroke-width="0.12">5/9</text>
<rect x="621.50" y="326.50" width="59.00" height="58.90" rx="0" fill="#fff" stroke="#1a1a1a" stroke-width="1.0"/>
<line x1="643.50" y1="326.50" x2="643.50" y2="385.40" stroke="#f01818" stroke-width="1.2" stroke-linecap="butt" stroke-dasharray="3.2,1.3"/>
<path d="M623.50,329.80 C624.37,332.03 626.88,338.40 628.70,343.20 C630.52,348.00 632.75,354.48 634.40,358.60 C636.05,362.72 637.45,365.47 638.60,367.90 C639.75,370.33 640.47,371.92 641.30,373.20 C642.13,374.48 642.85,375.37 643.60,375.60 C644.35,375.83 645.02,375.30 645.80,374.60 C646.58,373.90 646.83,373.45 648.30,371.40 C649.77,369.35 651.62,366.67 654.60,362.30 C657.58,357.93 663.30,349.48 666.20,345.20 C669.10,340.92 670.13,339.38 672.00,336.60 C673.87,333.82 676.50,329.85 677.40,328.50" fill="none" stroke="#2a2af0" stroke-width="1.2" stroke-linejoin="round"/>
<line x1="621.50" y1="332.10" x2="623.50" y2="332.10" stroke="#1a1a1a" stroke-width="0.9" stroke-linecap="butt"/>
<text x="619.70" y="336.10" font-size="11.2" text-anchor="end" fill="#111" stroke="#111" stroke-width="0.12">0.05</text>
<line x1="621.50" y1="384.30" x2="623.50" y2="384.30" stroke="#1a1a1a" stroke-width="0.9" stroke-linecap="butt"/>
<text x="619.70" y="388.30" font-size="11.2" text-anchor="end" fill="#111" stroke="#111" stroke-width="0.12">0.00</text>
<line x1="639.20" y1="385.40" x2="639.20" y2="383.40" stroke="#1a1a1a" stroke-width="0.9" stroke-linecap="butt"/>
<text x="639.20" y="394.40" font-size="11.2" text-anchor="middle" fill="#111" stroke="#111" stroke-width="0.12">0.5</text>
<line x1="671.90" y1="385.40" x2="671.90" y2="383.40" stroke="#1a1a1a" stroke-width="0.9" stroke-linecap="butt"/>
<text x="671.90" y="394.40" font-size="11.2" text-anchor="middle" fill="#111" stroke="#111" stroke-width="0.12">0.9</text>
<path d="M605.28,357.70 C604.20,353.80 605.97,351.20 608.61,351.20 C611.45,351.20 613.02,354.10 612.83,358.50 M604.99,357.20 L612.83,358.40 M605.48,357.80 C605.08,359.00 605.57,360.00 606.55,360.30" fill="none" stroke="#1a1a1a" stroke-width="1.05" stroke-linecap="round" stroke-linejoin="round"/>
<text x="650.00" y="403.30" font-size="12.2" text-anchor="middle" fill="#111" stroke="#111" stroke-width="0.06"><tspan font-style="italic">μ</tspan>′</text>
<rect x="548.40" y="234.10" width="132.10" height="175.20" rx="0" fill="none" stroke="#1a1a1a" stroke-width="1.0"/>
<line x1="548.40" y1="245.30" x2="550.40" y2="245.30" stroke="#1a1a1a" stroke-width="0.9" stroke-linecap="butt"/>
<text x="546.60" y="249.30" font-size="11.2" text-anchor="end" fill="#111" stroke="#111" stroke-width="0.12">0.64</text>
<line x1="548.40" y1="298.40" x2="550.40" y2="298.40" stroke="#1a1a1a" stroke-width="0.9" stroke-linecap="butt"/>
<text x="546.60" y="302.40" font-size="11.2" text-anchor="end" fill="#111" stroke="#111" stroke-width="0.12">0.60</text>
<line x1="548.40" y1="351.50" x2="550.40" y2="351.50" stroke="#1a1a1a" stroke-width="0.9" stroke-linecap="butt"/>
<text x="546.60" y="355.50" font-size="11.2" text-anchor="end" fill="#111" stroke="#111" stroke-width="0.12">0.56</text>
<line x1="548.40" y1="404.60" x2="550.40" y2="404.60" stroke="#1a1a1a" stroke-width="0.9" stroke-linecap="butt"/>
<text x="546.60" y="408.60" font-size="11.2" text-anchor="end" fill="#111" stroke="#111" stroke-width="0.12">0.52</text>
<line x1="573.00" y1="409.30" x2="573.00" y2="407.30" stroke="#1a1a1a" stroke-width="0.9" stroke-linecap="butt"/>
<text x="573.00" y="418.90" font-size="11.2" text-anchor="middle" fill="#111" stroke="#111" stroke-width="0.12">0.02</text>
<line x1="614.00" y1="409.30" x2="614.00" y2="407.30" stroke="#1a1a1a" stroke-width="0.9" stroke-linecap="butt"/>
<text x="614.00" y="418.90" font-size="11.2" text-anchor="middle" fill="#111" stroke="#111" stroke-width="0.12">0.04</text>
<line x1="655.00" y1="409.30" x2="655.00" y2="407.30" stroke="#1a1a1a" stroke-width="0.9" stroke-linecap="butt"/>
<text x="655.00" y="418.90" font-size="11.2" text-anchor="middle" fill="#111" stroke="#111" stroke-width="0.12">0.06</text>
<text x="613.30" y="432.80" font-size="12.2" text-anchor="middle" textLength="43.4" lengthAdjust="spacingAndGlyphs" fill="#111" stroke="#111" stroke-width="0.06">(<tspan font-style="italic">s</tspan><tspan dy="-4.39" dx="0.6" font-size="8.54" font-style="italic">μ</tspan><tspan font-size="7.69">′</tspan><tspan dy="4.39" dx="1.2" font-style="italic">L</tspan>)<tspan dy="-4.39" dx="0.8" font-size="8.54">−1</tspan></text>
<text x="526.00" y="321.60" font-size="12.2" text-anchor="middle" transform="rotate(-90 526.00 321.60)" fill="#111" stroke="#111" stroke-width="0.06"><tspan font-style="italic">U</tspan><tspan dy="2.6" font-size="8.54">valley</tspan></text>
<polyline points="515.50,336.70 515.10,335.95 514.81,335.20 514.70,334.45 514.81,333.70 515.10,332.95 515.50,332.20 515.90,331.45 516.19,330.70 516.30,329.95 516.19,329.20 515.90,328.45 515.50,327.70" fill="none" stroke="#222" stroke-width="0.7" stroke-linejoin="round" stroke-linecap="round"/>
</g>
</svg></body></html>
